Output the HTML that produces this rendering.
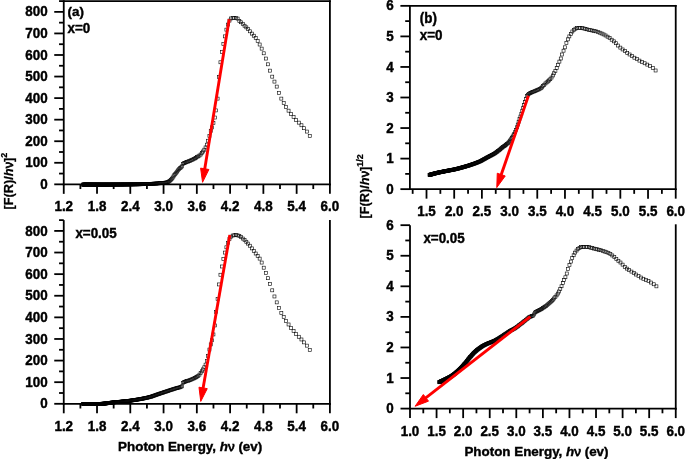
<!DOCTYPE html>
<html><head><meta charset="utf-8"><style>
html,body{margin:0;padding:0;background:#fff;}
body{width:685px;height:459px;overflow:hidden;}
svg{display:block;will-change:transform;font-family:"Liberation Sans", sans-serif;font-weight:bold;}
text{stroke:#000;stroke-width:0.4px;}
</style></head><body>
<svg width="685" height="459" viewBox="0 0 685 459">
<rect width="685" height="459" fill="#fff"/>
<line x1="63.75" y1="0.19" x2="63.75" y2="185.25" stroke="#000" stroke-width="1.8" stroke-linecap="butt"/>
<line x1="62.85" y1="184.35" x2="330.81" y2="184.35" stroke="#000" stroke-width="1.8" stroke-linecap="butt"/>
<line x1="329.91" y1="0.19" x2="329.91" y2="185.25" stroke="#000" stroke-width="1.8" stroke-linecap="butt"/>
<line x1="63.75" y1="1.09" x2="330.81" y2="1.09" stroke="#000" stroke-width="1.8" stroke-linecap="butt"/>
<line x1="54.25" y1="184.35" x2="63.75" y2="184.35" stroke="#000" stroke-width="1.8" stroke-linecap="butt"/>
<line x1="54.25" y1="162.79" x2="63.75" y2="162.79" stroke="#000" stroke-width="1.8" stroke-linecap="butt"/>
<line x1="54.25" y1="141.23" x2="63.75" y2="141.23" stroke="#000" stroke-width="1.8" stroke-linecap="butt"/>
<line x1="54.25" y1="119.67" x2="63.75" y2="119.67" stroke="#000" stroke-width="1.8" stroke-linecap="butt"/>
<line x1="54.25" y1="98.11" x2="63.75" y2="98.11" stroke="#000" stroke-width="1.8" stroke-linecap="butt"/>
<line x1="54.25" y1="76.55" x2="63.75" y2="76.55" stroke="#000" stroke-width="1.8" stroke-linecap="butt"/>
<line x1="54.25" y1="54.99" x2="63.75" y2="54.99" stroke="#000" stroke-width="1.8" stroke-linecap="butt"/>
<line x1="54.25" y1="33.43" x2="63.75" y2="33.43" stroke="#000" stroke-width="1.8" stroke-linecap="butt"/>
<line x1="54.25" y1="11.87" x2="63.75" y2="11.87" stroke="#000" stroke-width="1.8" stroke-linecap="butt"/>
<line x1="59.05" y1="173.57" x2="63.75" y2="173.57" stroke="#000" stroke-width="1.8" stroke-linecap="butt"/>
<line x1="59.05" y1="152.01" x2="63.75" y2="152.01" stroke="#000" stroke-width="1.8" stroke-linecap="butt"/>
<line x1="59.05" y1="130.45" x2="63.75" y2="130.45" stroke="#000" stroke-width="1.8" stroke-linecap="butt"/>
<line x1="59.05" y1="108.89" x2="63.75" y2="108.89" stroke="#000" stroke-width="1.8" stroke-linecap="butt"/>
<line x1="59.05" y1="87.33" x2="63.75" y2="87.33" stroke="#000" stroke-width="1.8" stroke-linecap="butt"/>
<line x1="59.05" y1="65.77" x2="63.75" y2="65.77" stroke="#000" stroke-width="1.8" stroke-linecap="butt"/>
<line x1="59.05" y1="44.21" x2="63.75" y2="44.21" stroke="#000" stroke-width="1.8" stroke-linecap="butt"/>
<line x1="59.05" y1="22.65" x2="63.75" y2="22.65" stroke="#000" stroke-width="1.8" stroke-linecap="butt"/>
<line x1="59.05" y1="1.09" x2="63.75" y2="1.09" stroke="#000" stroke-width="1.8" stroke-linecap="butt"/>
<line x1="63.75" y1="184.35" x2="63.75" y2="193.85" stroke="#000" stroke-width="1.8" stroke-linecap="butt"/>
<line x1="97.02" y1="184.35" x2="97.02" y2="193.85" stroke="#000" stroke-width="1.8" stroke-linecap="butt"/>
<line x1="130.29" y1="184.35" x2="130.29" y2="193.85" stroke="#000" stroke-width="1.8" stroke-linecap="butt"/>
<line x1="163.56" y1="184.35" x2="163.56" y2="193.85" stroke="#000" stroke-width="1.8" stroke-linecap="butt"/>
<line x1="196.83" y1="184.35" x2="196.83" y2="193.85" stroke="#000" stroke-width="1.8" stroke-linecap="butt"/>
<line x1="230.10" y1="184.35" x2="230.10" y2="193.85" stroke="#000" stroke-width="1.8" stroke-linecap="butt"/>
<line x1="263.37" y1="184.35" x2="263.37" y2="193.85" stroke="#000" stroke-width="1.8" stroke-linecap="butt"/>
<line x1="296.64" y1="184.35" x2="296.64" y2="193.85" stroke="#000" stroke-width="1.8" stroke-linecap="butt"/>
<line x1="329.91" y1="184.35" x2="329.91" y2="193.85" stroke="#000" stroke-width="1.8" stroke-linecap="butt"/>
<line x1="80.39" y1="184.35" x2="80.39" y2="189.05" stroke="#000" stroke-width="1.8" stroke-linecap="butt"/>
<line x1="113.66" y1="184.35" x2="113.66" y2="189.05" stroke="#000" stroke-width="1.8" stroke-linecap="butt"/>
<line x1="146.93" y1="184.35" x2="146.93" y2="189.05" stroke="#000" stroke-width="1.8" stroke-linecap="butt"/>
<line x1="180.19" y1="184.35" x2="180.19" y2="189.05" stroke="#000" stroke-width="1.8" stroke-linecap="butt"/>
<line x1="213.47" y1="184.35" x2="213.47" y2="189.05" stroke="#000" stroke-width="1.8" stroke-linecap="butt"/>
<line x1="246.74" y1="184.35" x2="246.74" y2="189.05" stroke="#000" stroke-width="1.8" stroke-linecap="butt"/>
<line x1="280.00" y1="184.35" x2="280.00" y2="189.05" stroke="#000" stroke-width="1.8" stroke-linecap="butt"/>
<line x1="313.27" y1="184.35" x2="313.27" y2="189.05" stroke="#000" stroke-width="1.8" stroke-linecap="butt"/>
<text transform="translate(63.75 211.45) scale(1 1.06)" text-anchor="middle" font-size="13.4" >1.2</text>
<text transform="translate(97.02 211.45) scale(1 1.06)" text-anchor="middle" font-size="13.4" >1.8</text>
<text transform="translate(130.29 211.45) scale(1 1.06)" text-anchor="middle" font-size="13.4" >2.4</text>
<text transform="translate(163.56 211.45) scale(1 1.06)" text-anchor="middle" font-size="13.4" >3.0</text>
<text transform="translate(196.83 211.45) scale(1 1.06)" text-anchor="middle" font-size="13.4" >3.6</text>
<text transform="translate(230.10 211.45) scale(1 1.06)" text-anchor="middle" font-size="13.4" >4.2</text>
<text transform="translate(263.37 211.45) scale(1 1.06)" text-anchor="middle" font-size="13.4" >4.8</text>
<text transform="translate(296.64 211.45) scale(1 1.06)" text-anchor="middle" font-size="13.4" >5.4</text>
<text transform="translate(329.91 211.45) scale(1 1.06)" text-anchor="middle" font-size="13.4" >6.0</text>
<text transform="translate(47.60 188.95) scale(1 1.06)" text-anchor="end" font-size="13.4" >0</text>
<text transform="translate(47.60 167.39) scale(1 1.06)" text-anchor="end" font-size="13.4" >100</text>
<text transform="translate(47.60 145.83) scale(1 1.06)" text-anchor="end" font-size="13.4" >200</text>
<text transform="translate(47.60 124.27) scale(1 1.06)" text-anchor="end" font-size="13.4" >300</text>
<text transform="translate(47.60 102.71) scale(1 1.06)" text-anchor="end" font-size="13.4" >400</text>
<text transform="translate(47.60 81.15) scale(1 1.06)" text-anchor="end" font-size="13.4" >500</text>
<text transform="translate(47.60 59.59) scale(1 1.06)" text-anchor="end" font-size="13.4" >600</text>
<text transform="translate(47.60 38.03) scale(1 1.06)" text-anchor="end" font-size="13.4" >700</text>
<text transform="translate(47.60 16.47) scale(1 1.06)" text-anchor="end" font-size="13.4" >800</text>
<line x1="63.75" y1="220.12" x2="63.75" y2="404.70" stroke="#000" stroke-width="1.8" stroke-linecap="butt"/>
<line x1="62.85" y1="403.80" x2="330.81" y2="403.80" stroke="#000" stroke-width="1.8" stroke-linecap="butt"/>
<line x1="329.91" y1="220.12" x2="329.91" y2="404.70" stroke="#000" stroke-width="1.8" stroke-linecap="butt"/>
<line x1="54.25" y1="403.80" x2="63.75" y2="403.80" stroke="#000" stroke-width="1.8" stroke-linecap="butt"/>
<line x1="54.25" y1="382.19" x2="63.75" y2="382.19" stroke="#000" stroke-width="1.8" stroke-linecap="butt"/>
<line x1="54.25" y1="360.58" x2="63.75" y2="360.58" stroke="#000" stroke-width="1.8" stroke-linecap="butt"/>
<line x1="54.25" y1="338.97" x2="63.75" y2="338.97" stroke="#000" stroke-width="1.8" stroke-linecap="butt"/>
<line x1="54.25" y1="317.36" x2="63.75" y2="317.36" stroke="#000" stroke-width="1.8" stroke-linecap="butt"/>
<line x1="54.25" y1="295.75" x2="63.75" y2="295.75" stroke="#000" stroke-width="1.8" stroke-linecap="butt"/>
<line x1="54.25" y1="274.14" x2="63.75" y2="274.14" stroke="#000" stroke-width="1.8" stroke-linecap="butt"/>
<line x1="54.25" y1="252.53" x2="63.75" y2="252.53" stroke="#000" stroke-width="1.8" stroke-linecap="butt"/>
<line x1="54.25" y1="230.92" x2="63.75" y2="230.92" stroke="#000" stroke-width="1.8" stroke-linecap="butt"/>
<line x1="59.05" y1="393.00" x2="63.75" y2="393.00" stroke="#000" stroke-width="1.8" stroke-linecap="butt"/>
<line x1="59.05" y1="371.38" x2="63.75" y2="371.38" stroke="#000" stroke-width="1.8" stroke-linecap="butt"/>
<line x1="59.05" y1="349.78" x2="63.75" y2="349.78" stroke="#000" stroke-width="1.8" stroke-linecap="butt"/>
<line x1="59.05" y1="328.17" x2="63.75" y2="328.17" stroke="#000" stroke-width="1.8" stroke-linecap="butt"/>
<line x1="59.05" y1="306.56" x2="63.75" y2="306.56" stroke="#000" stroke-width="1.8" stroke-linecap="butt"/>
<line x1="59.05" y1="284.95" x2="63.75" y2="284.95" stroke="#000" stroke-width="1.8" stroke-linecap="butt"/>
<line x1="59.05" y1="263.34" x2="63.75" y2="263.34" stroke="#000" stroke-width="1.8" stroke-linecap="butt"/>
<line x1="59.05" y1="241.73" x2="63.75" y2="241.73" stroke="#000" stroke-width="1.8" stroke-linecap="butt"/>
<line x1="59.05" y1="220.12" x2="63.75" y2="220.12" stroke="#000" stroke-width="1.8" stroke-linecap="butt"/>
<line x1="63.75" y1="403.80" x2="63.75" y2="413.30" stroke="#000" stroke-width="1.8" stroke-linecap="butt"/>
<line x1="97.02" y1="403.80" x2="97.02" y2="413.30" stroke="#000" stroke-width="1.8" stroke-linecap="butt"/>
<line x1="130.29" y1="403.80" x2="130.29" y2="413.30" stroke="#000" stroke-width="1.8" stroke-linecap="butt"/>
<line x1="163.56" y1="403.80" x2="163.56" y2="413.30" stroke="#000" stroke-width="1.8" stroke-linecap="butt"/>
<line x1="196.83" y1="403.80" x2="196.83" y2="413.30" stroke="#000" stroke-width="1.8" stroke-linecap="butt"/>
<line x1="230.10" y1="403.80" x2="230.10" y2="413.30" stroke="#000" stroke-width="1.8" stroke-linecap="butt"/>
<line x1="263.37" y1="403.80" x2="263.37" y2="413.30" stroke="#000" stroke-width="1.8" stroke-linecap="butt"/>
<line x1="296.64" y1="403.80" x2="296.64" y2="413.30" stroke="#000" stroke-width="1.8" stroke-linecap="butt"/>
<line x1="329.91" y1="403.80" x2="329.91" y2="413.30" stroke="#000" stroke-width="1.8" stroke-linecap="butt"/>
<line x1="80.39" y1="403.80" x2="80.39" y2="408.50" stroke="#000" stroke-width="1.8" stroke-linecap="butt"/>
<line x1="113.66" y1="403.80" x2="113.66" y2="408.50" stroke="#000" stroke-width="1.8" stroke-linecap="butt"/>
<line x1="146.93" y1="403.80" x2="146.93" y2="408.50" stroke="#000" stroke-width="1.8" stroke-linecap="butt"/>
<line x1="180.19" y1="403.80" x2="180.19" y2="408.50" stroke="#000" stroke-width="1.8" stroke-linecap="butt"/>
<line x1="213.47" y1="403.80" x2="213.47" y2="408.50" stroke="#000" stroke-width="1.8" stroke-linecap="butt"/>
<line x1="246.74" y1="403.80" x2="246.74" y2="408.50" stroke="#000" stroke-width="1.8" stroke-linecap="butt"/>
<line x1="280.00" y1="403.80" x2="280.00" y2="408.50" stroke="#000" stroke-width="1.8" stroke-linecap="butt"/>
<line x1="313.27" y1="403.80" x2="313.27" y2="408.50" stroke="#000" stroke-width="1.8" stroke-linecap="butt"/>
<text transform="translate(63.75 430.90) scale(1 1.06)" text-anchor="middle" font-size="13.4" >1.2</text>
<text transform="translate(97.02 430.90) scale(1 1.06)" text-anchor="middle" font-size="13.4" >1.8</text>
<text transform="translate(130.29 430.90) scale(1 1.06)" text-anchor="middle" font-size="13.4" >2.4</text>
<text transform="translate(163.56 430.90) scale(1 1.06)" text-anchor="middle" font-size="13.4" >3.0</text>
<text transform="translate(196.83 430.90) scale(1 1.06)" text-anchor="middle" font-size="13.4" >3.6</text>
<text transform="translate(230.10 430.90) scale(1 1.06)" text-anchor="middle" font-size="13.4" >4.2</text>
<text transform="translate(263.37 430.90) scale(1 1.06)" text-anchor="middle" font-size="13.4" >4.8</text>
<text transform="translate(296.64 430.90) scale(1 1.06)" text-anchor="middle" font-size="13.4" >5.4</text>
<text transform="translate(329.91 430.90) scale(1 1.06)" text-anchor="middle" font-size="13.4" >6.0</text>
<text transform="translate(47.60 408.40) scale(1 1.06)" text-anchor="end" font-size="13.4" >0</text>
<text transform="translate(47.60 386.79) scale(1 1.06)" text-anchor="end" font-size="13.4" >100</text>
<text transform="translate(47.60 365.18) scale(1 1.06)" text-anchor="end" font-size="13.4" >200</text>
<text transform="translate(47.60 343.57) scale(1 1.06)" text-anchor="end" font-size="13.4" >300</text>
<text transform="translate(47.60 321.96) scale(1 1.06)" text-anchor="end" font-size="13.4" >400</text>
<text transform="translate(47.60 300.35) scale(1 1.06)" text-anchor="end" font-size="13.4" >500</text>
<text transform="translate(47.60 278.74) scale(1 1.06)" text-anchor="end" font-size="13.4" >600</text>
<text transform="translate(47.60 257.13) scale(1 1.06)" text-anchor="end" font-size="13.4" >700</text>
<text transform="translate(47.60 235.52) scale(1 1.06)" text-anchor="end" font-size="13.4" >800</text>
<line x1="409.90" y1="4.95" x2="409.90" y2="190.05" stroke="#000" stroke-width="1.8" stroke-linecap="butt"/>
<line x1="409.00" y1="189.15" x2="676.62" y2="189.15" stroke="#000" stroke-width="1.8" stroke-linecap="butt"/>
<line x1="675.72" y1="4.95" x2="675.72" y2="190.05" stroke="#000" stroke-width="1.8" stroke-linecap="butt"/>
<line x1="409.90" y1="5.85" x2="676.62" y2="5.85" stroke="#000" stroke-width="1.8" stroke-linecap="butt"/>
<line x1="400.40" y1="189.15" x2="409.90" y2="189.15" stroke="#000" stroke-width="1.8" stroke-linecap="butt"/>
<line x1="400.40" y1="158.60" x2="409.90" y2="158.60" stroke="#000" stroke-width="1.8" stroke-linecap="butt"/>
<line x1="400.40" y1="128.05" x2="409.90" y2="128.05" stroke="#000" stroke-width="1.8" stroke-linecap="butt"/>
<line x1="400.40" y1="97.50" x2="409.90" y2="97.50" stroke="#000" stroke-width="1.8" stroke-linecap="butt"/>
<line x1="400.40" y1="66.95" x2="409.90" y2="66.95" stroke="#000" stroke-width="1.8" stroke-linecap="butt"/>
<line x1="400.40" y1="36.40" x2="409.90" y2="36.40" stroke="#000" stroke-width="1.8" stroke-linecap="butt"/>
<line x1="400.40" y1="5.85" x2="409.90" y2="5.85" stroke="#000" stroke-width="1.8" stroke-linecap="butt"/>
<line x1="405.20" y1="173.88" x2="409.90" y2="173.88" stroke="#000" stroke-width="1.8" stroke-linecap="butt"/>
<line x1="405.20" y1="143.32" x2="409.90" y2="143.32" stroke="#000" stroke-width="1.8" stroke-linecap="butt"/>
<line x1="405.20" y1="112.78" x2="409.90" y2="112.78" stroke="#000" stroke-width="1.8" stroke-linecap="butt"/>
<line x1="405.20" y1="82.23" x2="409.90" y2="82.23" stroke="#000" stroke-width="1.8" stroke-linecap="butt"/>
<line x1="405.20" y1="51.68" x2="409.90" y2="51.68" stroke="#000" stroke-width="1.8" stroke-linecap="butt"/>
<line x1="405.20" y1="21.12" x2="409.90" y2="21.12" stroke="#000" stroke-width="1.8" stroke-linecap="butt"/>
<line x1="426.51" y1="189.15" x2="426.51" y2="198.65" stroke="#000" stroke-width="1.8" stroke-linecap="butt"/>
<line x1="454.20" y1="189.15" x2="454.20" y2="198.65" stroke="#000" stroke-width="1.8" stroke-linecap="butt"/>
<line x1="481.89" y1="189.15" x2="481.89" y2="198.65" stroke="#000" stroke-width="1.8" stroke-linecap="butt"/>
<line x1="509.58" y1="189.15" x2="509.58" y2="198.65" stroke="#000" stroke-width="1.8" stroke-linecap="butt"/>
<line x1="537.27" y1="189.15" x2="537.27" y2="198.65" stroke="#000" stroke-width="1.8" stroke-linecap="butt"/>
<line x1="564.96" y1="189.15" x2="564.96" y2="198.65" stroke="#000" stroke-width="1.8" stroke-linecap="butt"/>
<line x1="592.65" y1="189.15" x2="592.65" y2="198.65" stroke="#000" stroke-width="1.8" stroke-linecap="butt"/>
<line x1="620.34" y1="189.15" x2="620.34" y2="198.65" stroke="#000" stroke-width="1.8" stroke-linecap="butt"/>
<line x1="648.03" y1="189.15" x2="648.03" y2="198.65" stroke="#000" stroke-width="1.8" stroke-linecap="butt"/>
<line x1="675.72" y1="189.15" x2="675.72" y2="198.65" stroke="#000" stroke-width="1.8" stroke-linecap="butt"/>
<line x1="412.67" y1="189.15" x2="412.67" y2="193.85" stroke="#000" stroke-width="1.8" stroke-linecap="butt"/>
<line x1="440.36" y1="189.15" x2="440.36" y2="193.85" stroke="#000" stroke-width="1.8" stroke-linecap="butt"/>
<line x1="468.05" y1="189.15" x2="468.05" y2="193.85" stroke="#000" stroke-width="1.8" stroke-linecap="butt"/>
<line x1="495.74" y1="189.15" x2="495.74" y2="193.85" stroke="#000" stroke-width="1.8" stroke-linecap="butt"/>
<line x1="523.43" y1="189.15" x2="523.43" y2="193.85" stroke="#000" stroke-width="1.8" stroke-linecap="butt"/>
<line x1="551.12" y1="189.15" x2="551.12" y2="193.85" stroke="#000" stroke-width="1.8" stroke-linecap="butt"/>
<line x1="578.81" y1="189.15" x2="578.81" y2="193.85" stroke="#000" stroke-width="1.8" stroke-linecap="butt"/>
<line x1="606.50" y1="189.15" x2="606.50" y2="193.85" stroke="#000" stroke-width="1.8" stroke-linecap="butt"/>
<line x1="634.19" y1="189.15" x2="634.19" y2="193.85" stroke="#000" stroke-width="1.8" stroke-linecap="butt"/>
<line x1="661.88" y1="189.15" x2="661.88" y2="193.85" stroke="#000" stroke-width="1.8" stroke-linecap="butt"/>
<text transform="translate(426.51 216.25) scale(1 1.06)" text-anchor="middle" font-size="13.4" >1.5</text>
<text transform="translate(454.20 216.25) scale(1 1.06)" text-anchor="middle" font-size="13.4" >2.0</text>
<text transform="translate(481.89 216.25) scale(1 1.06)" text-anchor="middle" font-size="13.4" >2.5</text>
<text transform="translate(509.58 216.25) scale(1 1.06)" text-anchor="middle" font-size="13.4" >3.0</text>
<text transform="translate(537.27 216.25) scale(1 1.06)" text-anchor="middle" font-size="13.4" >3.5</text>
<text transform="translate(564.96 216.25) scale(1 1.06)" text-anchor="middle" font-size="13.4" >4.0</text>
<text transform="translate(592.65 216.25) scale(1 1.06)" text-anchor="middle" font-size="13.4" >4.5</text>
<text transform="translate(620.34 216.25) scale(1 1.06)" text-anchor="middle" font-size="13.4" >5.0</text>
<text transform="translate(648.03 216.25) scale(1 1.06)" text-anchor="middle" font-size="13.4" >5.5</text>
<text transform="translate(675.72 216.25) scale(1 1.06)" text-anchor="middle" font-size="13.4" >6.0</text>
<text transform="translate(393.70 193.75) scale(1 1.06)" text-anchor="end" font-size="13.4" >0</text>
<text transform="translate(393.70 163.20) scale(1 1.06)" text-anchor="end" font-size="13.4" >1</text>
<text transform="translate(393.70 132.65) scale(1 1.06)" text-anchor="end" font-size="13.4" >2</text>
<text transform="translate(393.70 102.10) scale(1 1.06)" text-anchor="end" font-size="13.4" >3</text>
<text transform="translate(393.70 71.55) scale(1 1.06)" text-anchor="end" font-size="13.4" >4</text>
<text transform="translate(393.70 41.00) scale(1 1.06)" text-anchor="end" font-size="13.4" >5</text>
<text transform="translate(393.70 10.45) scale(1 1.06)" text-anchor="end" font-size="13.4" >6</text>
<line x1="410.00" y1="225.18" x2="410.00" y2="409.50" stroke="#000" stroke-width="1.8" stroke-linecap="butt"/>
<line x1="409.10" y1="408.60" x2="676.65" y2="408.60" stroke="#000" stroke-width="1.8" stroke-linecap="butt"/>
<line x1="675.75" y1="224.30" x2="675.75" y2="409.50" stroke="#000" stroke-width="1.8" stroke-linecap="butt"/>
<line x1="400.50" y1="408.60" x2="410.00" y2="408.60" stroke="#000" stroke-width="1.8" stroke-linecap="butt"/>
<line x1="400.50" y1="378.03" x2="410.00" y2="378.03" stroke="#000" stroke-width="1.8" stroke-linecap="butt"/>
<line x1="400.50" y1="347.46" x2="410.00" y2="347.46" stroke="#000" stroke-width="1.8" stroke-linecap="butt"/>
<line x1="400.50" y1="316.89" x2="410.00" y2="316.89" stroke="#000" stroke-width="1.8" stroke-linecap="butt"/>
<line x1="400.50" y1="286.32" x2="410.00" y2="286.32" stroke="#000" stroke-width="1.8" stroke-linecap="butt"/>
<line x1="400.50" y1="255.75" x2="410.00" y2="255.75" stroke="#000" stroke-width="1.8" stroke-linecap="butt"/>
<line x1="400.50" y1="225.18" x2="410.00" y2="225.18" stroke="#000" stroke-width="1.8" stroke-linecap="butt"/>
<line x1="405.30" y1="393.31" x2="410.00" y2="393.31" stroke="#000" stroke-width="1.8" stroke-linecap="butt"/>
<line x1="405.30" y1="362.75" x2="410.00" y2="362.75" stroke="#000" stroke-width="1.8" stroke-linecap="butt"/>
<line x1="405.30" y1="332.18" x2="410.00" y2="332.18" stroke="#000" stroke-width="1.8" stroke-linecap="butt"/>
<line x1="405.30" y1="301.61" x2="410.00" y2="301.61" stroke="#000" stroke-width="1.8" stroke-linecap="butt"/>
<line x1="405.30" y1="271.04" x2="410.00" y2="271.04" stroke="#000" stroke-width="1.8" stroke-linecap="butt"/>
<line x1="405.30" y1="240.47" x2="410.00" y2="240.47" stroke="#000" stroke-width="1.8" stroke-linecap="butt"/>
<line x1="410.00" y1="408.60" x2="410.00" y2="418.10" stroke="#000" stroke-width="1.8" stroke-linecap="butt"/>
<line x1="436.57" y1="408.60" x2="436.57" y2="418.10" stroke="#000" stroke-width="1.8" stroke-linecap="butt"/>
<line x1="463.15" y1="408.60" x2="463.15" y2="418.10" stroke="#000" stroke-width="1.8" stroke-linecap="butt"/>
<line x1="489.73" y1="408.60" x2="489.73" y2="418.10" stroke="#000" stroke-width="1.8" stroke-linecap="butt"/>
<line x1="516.30" y1="408.60" x2="516.30" y2="418.10" stroke="#000" stroke-width="1.8" stroke-linecap="butt"/>
<line x1="542.88" y1="408.60" x2="542.88" y2="418.10" stroke="#000" stroke-width="1.8" stroke-linecap="butt"/>
<line x1="569.45" y1="408.60" x2="569.45" y2="418.10" stroke="#000" stroke-width="1.8" stroke-linecap="butt"/>
<line x1="596.02" y1="408.60" x2="596.02" y2="418.10" stroke="#000" stroke-width="1.8" stroke-linecap="butt"/>
<line x1="622.60" y1="408.60" x2="622.60" y2="418.10" stroke="#000" stroke-width="1.8" stroke-linecap="butt"/>
<line x1="649.17" y1="408.60" x2="649.17" y2="418.10" stroke="#000" stroke-width="1.8" stroke-linecap="butt"/>
<line x1="675.75" y1="408.60" x2="675.75" y2="418.10" stroke="#000" stroke-width="1.8" stroke-linecap="butt"/>
<line x1="423.29" y1="408.60" x2="423.29" y2="413.30" stroke="#000" stroke-width="1.8" stroke-linecap="butt"/>
<line x1="449.86" y1="408.60" x2="449.86" y2="413.30" stroke="#000" stroke-width="1.8" stroke-linecap="butt"/>
<line x1="476.44" y1="408.60" x2="476.44" y2="413.30" stroke="#000" stroke-width="1.8" stroke-linecap="butt"/>
<line x1="503.01" y1="408.60" x2="503.01" y2="413.30" stroke="#000" stroke-width="1.8" stroke-linecap="butt"/>
<line x1="529.59" y1="408.60" x2="529.59" y2="413.30" stroke="#000" stroke-width="1.8" stroke-linecap="butt"/>
<line x1="556.16" y1="408.60" x2="556.16" y2="413.30" stroke="#000" stroke-width="1.8" stroke-linecap="butt"/>
<line x1="582.74" y1="408.60" x2="582.74" y2="413.30" stroke="#000" stroke-width="1.8" stroke-linecap="butt"/>
<line x1="609.31" y1="408.60" x2="609.31" y2="413.30" stroke="#000" stroke-width="1.8" stroke-linecap="butt"/>
<line x1="635.89" y1="408.60" x2="635.89" y2="413.30" stroke="#000" stroke-width="1.8" stroke-linecap="butt"/>
<line x1="662.46" y1="408.60" x2="662.46" y2="413.30" stroke="#000" stroke-width="1.8" stroke-linecap="butt"/>
<text transform="translate(410.00 435.70) scale(1 1.06)" text-anchor="middle" font-size="13.4" >1.0</text>
<text transform="translate(436.57 435.70) scale(1 1.06)" text-anchor="middle" font-size="13.4" >1.5</text>
<text transform="translate(463.15 435.70) scale(1 1.06)" text-anchor="middle" font-size="13.4" >2.0</text>
<text transform="translate(489.73 435.70) scale(1 1.06)" text-anchor="middle" font-size="13.4" >2.5</text>
<text transform="translate(516.30 435.70) scale(1 1.06)" text-anchor="middle" font-size="13.4" >3.0</text>
<text transform="translate(542.88 435.70) scale(1 1.06)" text-anchor="middle" font-size="13.4" >3.5</text>
<text transform="translate(569.45 435.70) scale(1 1.06)" text-anchor="middle" font-size="13.4" >4.0</text>
<text transform="translate(596.02 435.70) scale(1 1.06)" text-anchor="middle" font-size="13.4" >4.5</text>
<text transform="translate(622.60 435.70) scale(1 1.06)" text-anchor="middle" font-size="13.4" >5.0</text>
<text transform="translate(649.17 435.70) scale(1 1.06)" text-anchor="middle" font-size="13.4" >5.5</text>
<text transform="translate(675.75 435.70) scale(1 1.06)" text-anchor="middle" font-size="13.4" >6.0</text>
<text transform="translate(393.70 413.20) scale(1 1.06)" text-anchor="end" font-size="13.4" >0</text>
<text transform="translate(393.70 382.63) scale(1 1.06)" text-anchor="end" font-size="13.4" >1</text>
<text transform="translate(393.70 352.06) scale(1 1.06)" text-anchor="end" font-size="13.4" >2</text>
<text transform="translate(393.70 321.49) scale(1 1.06)" text-anchor="end" font-size="13.4" >3</text>
<text transform="translate(393.70 290.92) scale(1 1.06)" text-anchor="end" font-size="13.4" >4</text>
<text transform="translate(393.70 260.35) scale(1 1.06)" text-anchor="end" font-size="13.4" >5</text>
<text transform="translate(393.70 229.78) scale(1 1.06)" text-anchor="end" font-size="13.4" >6</text>
<g fill="none" stroke="#000" stroke-width="0.6">
<rect x="81.66" y="183.10" width="3.0" height="3.0"/>
<rect x="81.87" y="183.10" width="3.0" height="3.0"/>
<rect x="82.09" y="183.10" width="3.0" height="3.0"/>
<rect x="82.31" y="183.10" width="3.0" height="3.0"/>
<rect x="82.53" y="183.10" width="3.0" height="3.0"/>
<rect x="82.75" y="183.10" width="3.0" height="3.0"/>
<rect x="82.97" y="183.10" width="3.0" height="3.0"/>
<rect x="83.19" y="183.10" width="3.0" height="3.0"/>
<rect x="83.41" y="183.10" width="3.0" height="3.0"/>
<rect x="83.64" y="183.10" width="3.0" height="3.0"/>
<rect x="83.86" y="183.10" width="3.0" height="3.0"/>
<rect x="84.09" y="183.10" width="3.0" height="3.0"/>
<rect x="84.32" y="183.10" width="3.0" height="3.0"/>
<rect x="84.54" y="183.10" width="3.0" height="3.0"/>
<rect x="84.77" y="183.10" width="3.0" height="3.0"/>
<rect x="85.01" y="183.10" width="3.0" height="3.0"/>
<rect x="85.24" y="183.10" width="3.0" height="3.0"/>
<rect x="85.47" y="183.10" width="3.0" height="3.0"/>
<rect x="85.71" y="183.10" width="3.0" height="3.0"/>
<rect x="85.94" y="183.10" width="3.0" height="3.0"/>
<rect x="86.18" y="183.10" width="3.0" height="3.0"/>
<rect x="86.42" y="183.10" width="3.0" height="3.0"/>
<rect x="86.66" y="183.10" width="3.0" height="3.0"/>
<rect x="86.90" y="183.10" width="3.0" height="3.0"/>
<rect x="87.14" y="183.10" width="3.0" height="3.0"/>
<rect x="87.39" y="183.10" width="3.0" height="3.0"/>
<rect x="87.63" y="183.10" width="3.0" height="3.0"/>
<rect x="87.88" y="183.10" width="3.0" height="3.0"/>
<rect x="88.13" y="183.10" width="3.0" height="3.0"/>
<rect x="88.38" y="183.10" width="3.0" height="3.0"/>
<rect x="88.63" y="183.10" width="3.0" height="3.0"/>
<rect x="88.88" y="183.10" width="3.0" height="3.0"/>
<rect x="89.13" y="183.10" width="3.0" height="3.0"/>
<rect x="89.39" y="183.10" width="3.0" height="3.0"/>
<rect x="89.64" y="183.10" width="3.0" height="3.0"/>
<rect x="89.90" y="183.10" width="3.0" height="3.0"/>
<rect x="90.16" y="183.10" width="3.0" height="3.0"/>
<rect x="90.42" y="183.10" width="3.0" height="3.0"/>
<rect x="90.68" y="183.10" width="3.0" height="3.0"/>
<rect x="90.94" y="183.10" width="3.0" height="3.0"/>
<rect x="91.21" y="183.10" width="3.0" height="3.0"/>
<rect x="91.47" y="183.10" width="3.0" height="3.0"/>
<rect x="91.74" y="183.10" width="3.0" height="3.0"/>
<rect x="92.01" y="183.10" width="3.0" height="3.0"/>
<rect x="92.28" y="183.10" width="3.0" height="3.0"/>
<rect x="92.55" y="183.10" width="3.0" height="3.0"/>
<rect x="92.83" y="183.10" width="3.0" height="3.0"/>
<rect x="93.10" y="183.10" width="3.0" height="3.0"/>
<rect x="93.38" y="183.10" width="3.0" height="3.0"/>
<rect x="93.66" y="183.10" width="3.0" height="3.0"/>
<rect x="93.94" y="183.10" width="3.0" height="3.0"/>
<rect x="94.22" y="183.10" width="3.0" height="3.0"/>
<rect x="94.50" y="183.10" width="3.0" height="3.0"/>
<rect x="94.78" y="183.10" width="3.0" height="3.0"/>
<rect x="95.07" y="183.10" width="3.0" height="3.0"/>
<rect x="95.36" y="183.10" width="3.0" height="3.0"/>
<rect x="95.65" y="183.10" width="3.0" height="3.0"/>
<rect x="95.94" y="183.10" width="3.0" height="3.0"/>
<rect x="96.23" y="183.10" width="3.0" height="3.0"/>
<rect x="96.53" y="183.10" width="3.0" height="3.0"/>
<rect x="96.82" y="183.10" width="3.0" height="3.0"/>
<rect x="97.12" y="183.10" width="3.0" height="3.0"/>
<rect x="97.42" y="183.10" width="3.0" height="3.0"/>
<rect x="97.72" y="183.10" width="3.0" height="3.0"/>
<rect x="98.03" y="183.10" width="3.0" height="3.0"/>
<rect x="98.33" y="183.10" width="3.0" height="3.0"/>
<rect x="98.64" y="183.10" width="3.0" height="3.0"/>
<rect x="98.95" y="183.10" width="3.0" height="3.0"/>
<rect x="99.26" y="183.10" width="3.0" height="3.0"/>
<rect x="99.57" y="183.10" width="3.0" height="3.0"/>
<rect x="99.89" y="183.10" width="3.0" height="3.0"/>
<rect x="100.21" y="183.10" width="3.0" height="3.0"/>
<rect x="100.52" y="183.10" width="3.0" height="3.0"/>
<rect x="100.84" y="183.10" width="3.0" height="3.0"/>
<rect x="101.17" y="183.10" width="3.0" height="3.0"/>
<rect x="101.49" y="183.10" width="3.0" height="3.0"/>
<rect x="101.82" y="183.10" width="3.0" height="3.0"/>
<rect x="102.15" y="183.10" width="3.0" height="3.0"/>
<rect x="102.48" y="183.09" width="3.0" height="3.0"/>
<rect x="102.81" y="183.09" width="3.0" height="3.0"/>
<rect x="103.14" y="183.09" width="3.0" height="3.0"/>
<rect x="103.48" y="183.09" width="3.0" height="3.0"/>
<rect x="103.82" y="183.09" width="3.0" height="3.0"/>
<rect x="104.16" y="183.09" width="3.0" height="3.0"/>
<rect x="104.50" y="183.09" width="3.0" height="3.0"/>
<rect x="104.85" y="183.09" width="3.0" height="3.0"/>
<rect x="105.20" y="183.08" width="3.0" height="3.0"/>
<rect x="105.55" y="183.08" width="3.0" height="3.0"/>
<rect x="105.90" y="183.08" width="3.0" height="3.0"/>
<rect x="106.25" y="183.08" width="3.0" height="3.0"/>
<rect x="106.61" y="183.08" width="3.0" height="3.0"/>
<rect x="106.97" y="183.08" width="3.0" height="3.0"/>
<rect x="107.33" y="183.07" width="3.0" height="3.0"/>
<rect x="107.69" y="183.07" width="3.0" height="3.0"/>
<rect x="108.06" y="183.07" width="3.0" height="3.0"/>
<rect x="108.43" y="183.07" width="3.0" height="3.0"/>
<rect x="108.80" y="183.07" width="3.0" height="3.0"/>
<rect x="109.17" y="183.06" width="3.0" height="3.0"/>
<rect x="109.55" y="183.06" width="3.0" height="3.0"/>
<rect x="109.93" y="183.06" width="3.0" height="3.0"/>
<rect x="110.31" y="183.06" width="3.0" height="3.0"/>
<rect x="110.69" y="183.05" width="3.0" height="3.0"/>
<rect x="111.08" y="183.05" width="3.0" height="3.0"/>
<rect x="111.46" y="183.05" width="3.0" height="3.0"/>
<rect x="111.86" y="183.05" width="3.0" height="3.0"/>
<rect x="112.25" y="183.04" width="3.0" height="3.0"/>
<rect x="112.65" y="183.04" width="3.0" height="3.0"/>
<rect x="113.04" y="183.04" width="3.0" height="3.0"/>
<rect x="113.45" y="183.04" width="3.0" height="3.0"/>
<rect x="113.85" y="183.03" width="3.0" height="3.0"/>
<rect x="114.26" y="183.03" width="3.0" height="3.0"/>
<rect x="114.67" y="183.03" width="3.0" height="3.0"/>
<rect x="115.08" y="183.02" width="3.0" height="3.0"/>
<rect x="115.50" y="183.02" width="3.0" height="3.0"/>
<rect x="115.92" y="183.02" width="3.0" height="3.0"/>
<rect x="116.34" y="183.02" width="3.0" height="3.0"/>
<rect x="116.76" y="183.01" width="3.0" height="3.0"/>
<rect x="117.19" y="183.01" width="3.0" height="3.0"/>
<rect x="117.62" y="183.01" width="3.0" height="3.0"/>
<rect x="118.06" y="183.00" width="3.0" height="3.0"/>
<rect x="118.49" y="183.00" width="3.0" height="3.0"/>
<rect x="118.93" y="183.00" width="3.0" height="3.0"/>
<rect x="119.38" y="182.99" width="3.0" height="3.0"/>
<rect x="119.82" y="182.99" width="3.0" height="3.0"/>
<rect x="120.27" y="182.99" width="3.0" height="3.0"/>
<rect x="120.72" y="182.98" width="3.0" height="3.0"/>
<rect x="121.18" y="182.98" width="3.0" height="3.0"/>
<rect x="121.64" y="182.98" width="3.0" height="3.0"/>
<rect x="122.10" y="182.97" width="3.0" height="3.0"/>
<rect x="122.57" y="182.97" width="3.0" height="3.0"/>
<rect x="123.04" y="182.96" width="3.0" height="3.0"/>
<rect x="123.51" y="182.96" width="3.0" height="3.0"/>
<rect x="123.99" y="182.96" width="3.0" height="3.0"/>
<rect x="124.47" y="182.95" width="3.0" height="3.0"/>
<rect x="124.95" y="182.95" width="3.0" height="3.0"/>
<rect x="125.44" y="182.94" width="3.0" height="3.0"/>
<rect x="125.93" y="182.94" width="3.0" height="3.0"/>
<rect x="126.43" y="182.93" width="3.0" height="3.0"/>
<rect x="126.93" y="182.93" width="3.0" height="3.0"/>
<rect x="127.43" y="182.92" width="3.0" height="3.0"/>
<rect x="127.94" y="182.92" width="3.0" height="3.0"/>
<rect x="128.45" y="182.91" width="3.0" height="3.0"/>
<rect x="128.96" y="182.91" width="3.0" height="3.0"/>
<rect x="129.48" y="182.90" width="3.0" height="3.0"/>
<rect x="130.00" y="182.89" width="3.0" height="3.0"/>
<rect x="130.53" y="182.89" width="3.0" height="3.0"/>
<rect x="131.06" y="182.88" width="3.0" height="3.0"/>
<rect x="131.60" y="182.87" width="3.0" height="3.0"/>
<rect x="132.13" y="182.87" width="3.0" height="3.0"/>
<rect x="132.68" y="182.86" width="3.0" height="3.0"/>
<rect x="133.23" y="182.85" width="3.0" height="3.0"/>
<rect x="133.78" y="182.84" width="3.0" height="3.0"/>
<rect x="134.34" y="182.83" width="3.0" height="3.0"/>
<rect x="134.90" y="182.82" width="3.0" height="3.0"/>
<rect x="135.46" y="182.82" width="3.0" height="3.0"/>
<rect x="136.03" y="182.81" width="3.0" height="3.0"/>
<rect x="136.61" y="182.80" width="3.0" height="3.0"/>
<rect x="137.19" y="182.79" width="3.0" height="3.0"/>
<rect x="137.77" y="182.78" width="3.0" height="3.0"/>
<rect x="138.36" y="182.76" width="3.0" height="3.0"/>
<rect x="138.96" y="182.75" width="3.0" height="3.0"/>
<rect x="139.56" y="182.74" width="3.0" height="3.0"/>
<rect x="140.16" y="182.73" width="3.0" height="3.0"/>
<rect x="140.77" y="182.72" width="3.0" height="3.0"/>
<rect x="141.38" y="182.70" width="3.0" height="3.0"/>
<rect x="142.00" y="182.69" width="3.0" height="3.0"/>
<rect x="142.63" y="182.67" width="3.0" height="3.0"/>
<rect x="143.26" y="182.65" width="3.0" height="3.0"/>
<rect x="143.90" y="182.63" width="3.0" height="3.0"/>
<rect x="144.54" y="182.60" width="3.0" height="3.0"/>
<rect x="145.18" y="182.58" width="3.0" height="3.0"/>
<rect x="145.84" y="182.55" width="3.0" height="3.0"/>
<rect x="146.50" y="182.51" width="3.0" height="3.0"/>
<rect x="147.16" y="182.48" width="3.0" height="3.0"/>
<rect x="147.83" y="182.44" width="3.0" height="3.0"/>
<rect x="148.51" y="182.41" width="3.0" height="3.0"/>
<rect x="149.19" y="182.37" width="3.0" height="3.0"/>
<rect x="149.88" y="182.33" width="3.0" height="3.0"/>
<rect x="150.57" y="182.28" width="3.0" height="3.0"/>
<rect x="151.27" y="182.24" width="3.0" height="3.0"/>
<rect x="151.98" y="182.20" width="3.0" height="3.0"/>
<rect x="152.69" y="182.15" width="3.0" height="3.0"/>
<rect x="153.41" y="182.11" width="3.0" height="3.0"/>
<rect x="154.14" y="182.06" width="3.0" height="3.0"/>
<rect x="154.87" y="182.01" width="3.0" height="3.0"/>
<rect x="155.61" y="181.95" width="3.0" height="3.0"/>
<rect x="156.36" y="181.89" width="3.0" height="3.0"/>
<rect x="157.11" y="181.82" width="3.0" height="3.0"/>
<rect x="157.88" y="181.76" width="3.0" height="3.0"/>
<rect x="158.64" y="181.69" width="3.0" height="3.0"/>
<rect x="159.42" y="181.62" width="3.0" height="3.0"/>
<rect x="160.20" y="181.55" width="3.0" height="3.0"/>
<rect x="160.99" y="181.48" width="3.0" height="3.0"/>
<rect x="161.79" y="181.40" width="3.0" height="3.0"/>
<rect x="162.60" y="181.32" width="3.0" height="3.0"/>
<rect x="163.41" y="181.22" width="3.0" height="3.0"/>
<rect x="164.23" y="181.10" width="3.0" height="3.0"/>
<rect x="165.06" y="180.95" width="3.0" height="3.0"/>
<rect x="165.90" y="180.73" width="3.0" height="3.0"/>
<rect x="166.75" y="180.41" width="3.0" height="3.0"/>
<rect x="167.61" y="179.94" width="3.0" height="3.0"/>
<rect x="168.47" y="179.21" width="3.0" height="3.0"/>
<rect x="169.34" y="178.35" width="3.0" height="3.0"/>
<rect x="170.22" y="177.29" width="3.0" height="3.0"/>
<rect x="171.11" y="176.15" width="3.0" height="3.0"/>
<rect x="172.01" y="174.90" width="3.0" height="3.0"/>
<rect x="172.92" y="173.59" width="3.0" height="3.0"/>
<rect x="173.84" y="172.36" width="3.0" height="3.0"/>
<rect x="174.77" y="171.19" width="3.0" height="3.0"/>
<rect x="175.70" y="170.05" width="3.0" height="3.0"/>
<rect x="176.65" y="168.91" width="3.0" height="3.0"/>
<rect x="177.61" y="167.77" width="3.0" height="3.0"/>
<rect x="178.58" y="166.72" width="3.0" height="3.0"/>
<rect x="179.55" y="165.97" width="3.0" height="3.0"/>
<rect x="180.54" y="164.93" width="3.0" height="3.0"/>
<rect x="181.54" y="162.36" width="3.0" height="3.0"/>
<rect x="182.55" y="161.73" width="3.0" height="3.0"/>
<rect x="183.57" y="161.31" width="3.0" height="3.0"/>
<rect x="184.61" y="160.86" width="3.0" height="3.0"/>
<rect x="185.65" y="160.45" width="3.0" height="3.0"/>
<rect x="186.70" y="160.06" width="3.0" height="3.0"/>
<rect x="187.77" y="159.65" width="3.0" height="3.0"/>
<rect x="188.85" y="159.19" width="3.0" height="3.0"/>
<rect x="189.94" y="158.69" width="3.0" height="3.0"/>
<rect x="191.05" y="158.15" width="3.0" height="3.0"/>
<rect x="192.16" y="157.59" width="3.0" height="3.0"/>
<rect x="193.29" y="156.97" width="3.0" height="3.0"/>
<rect x="194.43" y="156.33" width="3.0" height="3.0"/>
<rect x="195.59" y="155.66" width="3.0" height="3.0"/>
<rect x="196.76" y="154.91" width="3.0" height="3.0"/>
<rect x="197.94" y="154.05" width="3.0" height="3.0"/>
<rect x="199.14" y="153.00" width="3.0" height="3.0"/>
<rect x="200.35" y="151.66" width="3.0" height="3.0"/>
<rect x="201.57" y="150.03" width="3.0" height="3.0"/>
<rect x="202.81" y="148.16" width="3.0" height="3.0"/>
<rect x="204.07" y="145.94" width="3.0" height="3.0"/>
<rect x="205.34" y="143.16" width="3.0" height="3.0"/>
<rect x="206.62" y="139.24" width="3.0" height="3.0"/>
<rect x="207.93" y="134.42" width="3.0" height="3.0"/>
<rect x="209.24" y="129.54" width="3.0" height="3.0"/>
<rect x="210.58" y="125.91" width="3.0" height="3.0"/>
<rect x="211.93" y="121.61" width="3.0" height="3.0"/>
<rect x="213.30" y="116.03" width="3.0" height="3.0"/>
<rect x="214.68" y="108.90" width="3.0" height="3.0"/>
<rect x="216.09" y="97.10" width="3.0" height="3.0"/>
<rect x="217.51" y="75.60" width="3.0" height="3.0"/>
<rect x="218.95" y="60.78" width="3.0" height="3.0"/>
<rect x="220.41" y="50.55" width="3.0" height="3.0"/>
<rect x="221.89" y="42.30" width="3.0" height="3.0"/>
<rect x="223.39" y="34.88" width="3.0" height="3.0"/>
<rect x="224.90" y="28.14" width="3.0" height="3.0"/>
<rect x="226.44" y="23.08" width="3.0" height="3.0"/>
<rect x="228.00" y="19.08" width="3.0" height="3.0"/>
<rect x="229.58" y="16.97" width="3.0" height="3.0"/>
<rect x="231.18" y="16.52" width="3.0" height="3.0"/>
<rect x="232.81" y="16.40" width="3.0" height="3.0"/>
<rect x="234.45" y="16.48" width="3.0" height="3.0"/>
<rect x="236.12" y="17.08" width="3.0" height="3.0"/>
<rect x="237.82" y="19.31" width="3.0" height="3.0"/>
<rect x="239.53" y="20.75" width="3.0" height="3.0"/>
<rect x="241.27" y="22.27" width="3.0" height="3.0"/>
<rect x="243.04" y="24.22" width="3.0" height="3.0"/>
<rect x="244.83" y="25.87" width="3.0" height="3.0"/>
<rect x="246.65" y="27.45" width="3.0" height="3.0"/>
<rect x="248.50" y="29.80" width="3.0" height="3.0"/>
<rect x="250.37" y="32.11" width="3.0" height="3.0"/>
<rect x="252.27" y="34.22" width="3.0" height="3.0"/>
<rect x="254.20" y="36.40" width="3.0" height="3.0"/>
<rect x="256.16" y="39.37" width="3.0" height="3.0"/>
<rect x="258.15" y="43.01" width="3.0" height="3.0"/>
<rect x="260.16" y="47.12" width="3.0" height="3.0"/>
<rect x="262.21" y="51.80" width="3.0" height="3.0"/>
<rect x="264.30" y="57.06" width="3.0" height="3.0"/>
<rect x="266.41" y="62.81" width="3.0" height="3.0"/>
<rect x="268.56" y="69.14" width="3.0" height="3.0"/>
<rect x="270.74" y="75.15" width="3.0" height="3.0"/>
<rect x="272.96" y="80.09" width="3.0" height="3.0"/>
<rect x="275.21" y="85.09" width="3.0" height="3.0"/>
<rect x="277.51" y="91.29" width="3.0" height="3.0"/>
<rect x="279.83" y="97.11" width="3.0" height="3.0"/>
<rect x="282.20" y="101.66" width="3.0" height="3.0"/>
<rect x="284.61" y="105.63" width="3.0" height="3.0"/>
<rect x="287.06" y="109.16" width="3.0" height="3.0"/>
<rect x="289.55" y="112.43" width="3.0" height="3.0"/>
<rect x="292.08" y="115.61" width="3.0" height="3.0"/>
<rect x="294.66" y="118.57" width="3.0" height="3.0"/>
<rect x="297.28" y="121.14" width="3.0" height="3.0"/>
<rect x="299.95" y="123.76" width="3.0" height="3.0"/>
<rect x="302.67" y="126.70" width="3.0" height="3.0"/>
<rect x="305.43" y="130.07" width="3.0" height="3.0"/>
<rect x="308.25" y="134.31" width="3.0" height="3.0"/>
<rect x="81.66" y="402.69" width="3.0" height="3.0"/>
<rect x="81.87" y="402.69" width="3.0" height="3.0"/>
<rect x="82.09" y="402.69" width="3.0" height="3.0"/>
<rect x="82.31" y="402.68" width="3.0" height="3.0"/>
<rect x="82.53" y="402.68" width="3.0" height="3.0"/>
<rect x="82.75" y="402.68" width="3.0" height="3.0"/>
<rect x="82.97" y="402.68" width="3.0" height="3.0"/>
<rect x="83.19" y="402.67" width="3.0" height="3.0"/>
<rect x="83.41" y="402.67" width="3.0" height="3.0"/>
<rect x="83.64" y="402.67" width="3.0" height="3.0"/>
<rect x="83.86" y="402.67" width="3.0" height="3.0"/>
<rect x="84.09" y="402.66" width="3.0" height="3.0"/>
<rect x="84.32" y="402.66" width="3.0" height="3.0"/>
<rect x="84.54" y="402.66" width="3.0" height="3.0"/>
<rect x="84.77" y="402.65" width="3.0" height="3.0"/>
<rect x="85.01" y="402.65" width="3.0" height="3.0"/>
<rect x="85.24" y="402.65" width="3.0" height="3.0"/>
<rect x="85.47" y="402.65" width="3.0" height="3.0"/>
<rect x="85.71" y="402.64" width="3.0" height="3.0"/>
<rect x="85.94" y="402.64" width="3.0" height="3.0"/>
<rect x="86.18" y="402.64" width="3.0" height="3.0"/>
<rect x="86.42" y="402.63" width="3.0" height="3.0"/>
<rect x="86.66" y="402.63" width="3.0" height="3.0"/>
<rect x="86.90" y="402.63" width="3.0" height="3.0"/>
<rect x="87.14" y="402.62" width="3.0" height="3.0"/>
<rect x="87.39" y="402.62" width="3.0" height="3.0"/>
<rect x="87.63" y="402.61" width="3.0" height="3.0"/>
<rect x="87.88" y="402.61" width="3.0" height="3.0"/>
<rect x="88.13" y="402.61" width="3.0" height="3.0"/>
<rect x="88.38" y="402.60" width="3.0" height="3.0"/>
<rect x="88.63" y="402.60" width="3.0" height="3.0"/>
<rect x="88.88" y="402.59" width="3.0" height="3.0"/>
<rect x="89.13" y="402.59" width="3.0" height="3.0"/>
<rect x="89.39" y="402.59" width="3.0" height="3.0"/>
<rect x="89.64" y="402.58" width="3.0" height="3.0"/>
<rect x="89.90" y="402.58" width="3.0" height="3.0"/>
<rect x="90.16" y="402.57" width="3.0" height="3.0"/>
<rect x="90.42" y="402.57" width="3.0" height="3.0"/>
<rect x="90.68" y="402.56" width="3.0" height="3.0"/>
<rect x="90.94" y="402.56" width="3.0" height="3.0"/>
<rect x="91.21" y="402.55" width="3.0" height="3.0"/>
<rect x="91.47" y="402.55" width="3.0" height="3.0"/>
<rect x="91.74" y="402.54" width="3.0" height="3.0"/>
<rect x="92.01" y="402.54" width="3.0" height="3.0"/>
<rect x="92.28" y="402.53" width="3.0" height="3.0"/>
<rect x="92.55" y="402.52" width="3.0" height="3.0"/>
<rect x="92.83" y="402.52" width="3.0" height="3.0"/>
<rect x="93.10" y="402.51" width="3.0" height="3.0"/>
<rect x="93.38" y="402.51" width="3.0" height="3.0"/>
<rect x="93.66" y="402.50" width="3.0" height="3.0"/>
<rect x="93.94" y="402.49" width="3.0" height="3.0"/>
<rect x="94.22" y="402.49" width="3.0" height="3.0"/>
<rect x="94.50" y="402.48" width="3.0" height="3.0"/>
<rect x="94.78" y="402.47" width="3.0" height="3.0"/>
<rect x="95.07" y="402.46" width="3.0" height="3.0"/>
<rect x="95.36" y="402.45" width="3.0" height="3.0"/>
<rect x="95.65" y="402.45" width="3.0" height="3.0"/>
<rect x="95.94" y="402.44" width="3.0" height="3.0"/>
<rect x="96.23" y="402.43" width="3.0" height="3.0"/>
<rect x="96.53" y="402.42" width="3.0" height="3.0"/>
<rect x="96.82" y="402.41" width="3.0" height="3.0"/>
<rect x="97.12" y="402.40" width="3.0" height="3.0"/>
<rect x="97.42" y="402.39" width="3.0" height="3.0"/>
<rect x="97.72" y="402.38" width="3.0" height="3.0"/>
<rect x="98.03" y="402.37" width="3.0" height="3.0"/>
<rect x="98.33" y="402.36" width="3.0" height="3.0"/>
<rect x="98.64" y="402.35" width="3.0" height="3.0"/>
<rect x="98.95" y="402.33" width="3.0" height="3.0"/>
<rect x="99.26" y="402.32" width="3.0" height="3.0"/>
<rect x="99.57" y="402.31" width="3.0" height="3.0"/>
<rect x="99.89" y="402.30" width="3.0" height="3.0"/>
<rect x="100.21" y="402.28" width="3.0" height="3.0"/>
<rect x="100.52" y="402.26" width="3.0" height="3.0"/>
<rect x="100.84" y="402.24" width="3.0" height="3.0"/>
<rect x="101.17" y="402.22" width="3.0" height="3.0"/>
<rect x="101.49" y="402.20" width="3.0" height="3.0"/>
<rect x="101.82" y="402.17" width="3.0" height="3.0"/>
<rect x="102.15" y="402.14" width="3.0" height="3.0"/>
<rect x="102.48" y="402.11" width="3.0" height="3.0"/>
<rect x="102.81" y="402.08" width="3.0" height="3.0"/>
<rect x="103.14" y="402.05" width="3.0" height="3.0"/>
<rect x="103.48" y="402.01" width="3.0" height="3.0"/>
<rect x="103.82" y="401.97" width="3.0" height="3.0"/>
<rect x="104.16" y="401.93" width="3.0" height="3.0"/>
<rect x="104.50" y="401.89" width="3.0" height="3.0"/>
<rect x="104.85" y="401.85" width="3.0" height="3.0"/>
<rect x="105.20" y="401.81" width="3.0" height="3.0"/>
<rect x="105.55" y="401.76" width="3.0" height="3.0"/>
<rect x="105.90" y="401.71" width="3.0" height="3.0"/>
<rect x="106.25" y="401.67" width="3.0" height="3.0"/>
<rect x="106.61" y="401.62" width="3.0" height="3.0"/>
<rect x="106.97" y="401.57" width="3.0" height="3.0"/>
<rect x="107.33" y="401.52" width="3.0" height="3.0"/>
<rect x="107.69" y="401.47" width="3.0" height="3.0"/>
<rect x="108.06" y="401.42" width="3.0" height="3.0"/>
<rect x="108.43" y="401.37" width="3.0" height="3.0"/>
<rect x="108.80" y="401.32" width="3.0" height="3.0"/>
<rect x="109.17" y="401.27" width="3.0" height="3.0"/>
<rect x="109.55" y="401.21" width="3.0" height="3.0"/>
<rect x="109.93" y="401.16" width="3.0" height="3.0"/>
<rect x="110.31" y="401.11" width="3.0" height="3.0"/>
<rect x="110.69" y="401.06" width="3.0" height="3.0"/>
<rect x="111.08" y="401.01" width="3.0" height="3.0"/>
<rect x="111.46" y="400.96" width="3.0" height="3.0"/>
<rect x="111.86" y="400.92" width="3.0" height="3.0"/>
<rect x="112.25" y="400.87" width="3.0" height="3.0"/>
<rect x="112.65" y="400.83" width="3.0" height="3.0"/>
<rect x="113.04" y="400.78" width="3.0" height="3.0"/>
<rect x="113.45" y="400.74" width="3.0" height="3.0"/>
<rect x="113.85" y="400.70" width="3.0" height="3.0"/>
<rect x="114.26" y="400.66" width="3.0" height="3.0"/>
<rect x="114.67" y="400.62" width="3.0" height="3.0"/>
<rect x="115.08" y="400.58" width="3.0" height="3.0"/>
<rect x="115.50" y="400.54" width="3.0" height="3.0"/>
<rect x="115.92" y="400.50" width="3.0" height="3.0"/>
<rect x="116.34" y="400.46" width="3.0" height="3.0"/>
<rect x="116.76" y="400.42" width="3.0" height="3.0"/>
<rect x="117.19" y="400.38" width="3.0" height="3.0"/>
<rect x="117.62" y="400.34" width="3.0" height="3.0"/>
<rect x="118.06" y="400.30" width="3.0" height="3.0"/>
<rect x="118.49" y="400.26" width="3.0" height="3.0"/>
<rect x="118.93" y="400.22" width="3.0" height="3.0"/>
<rect x="119.38" y="400.18" width="3.0" height="3.0"/>
<rect x="119.82" y="400.14" width="3.0" height="3.0"/>
<rect x="120.27" y="400.10" width="3.0" height="3.0"/>
<rect x="120.72" y="400.06" width="3.0" height="3.0"/>
<rect x="121.18" y="400.02" width="3.0" height="3.0"/>
<rect x="121.64" y="399.97" width="3.0" height="3.0"/>
<rect x="122.10" y="399.93" width="3.0" height="3.0"/>
<rect x="122.57" y="399.88" width="3.0" height="3.0"/>
<rect x="123.04" y="399.84" width="3.0" height="3.0"/>
<rect x="123.51" y="399.79" width="3.0" height="3.0"/>
<rect x="123.99" y="399.74" width="3.0" height="3.0"/>
<rect x="124.47" y="399.69" width="3.0" height="3.0"/>
<rect x="124.95" y="399.63" width="3.0" height="3.0"/>
<rect x="125.44" y="399.58" width="3.0" height="3.0"/>
<rect x="125.93" y="399.52" width="3.0" height="3.0"/>
<rect x="126.43" y="399.46" width="3.0" height="3.0"/>
<rect x="126.93" y="399.40" width="3.0" height="3.0"/>
<rect x="127.43" y="399.34" width="3.0" height="3.0"/>
<rect x="127.94" y="399.27" width="3.0" height="3.0"/>
<rect x="128.45" y="399.20" width="3.0" height="3.0"/>
<rect x="128.96" y="399.13" width="3.0" height="3.0"/>
<rect x="129.48" y="399.06" width="3.0" height="3.0"/>
<rect x="130.00" y="398.99" width="3.0" height="3.0"/>
<rect x="130.53" y="398.91" width="3.0" height="3.0"/>
<rect x="131.06" y="398.84" width="3.0" height="3.0"/>
<rect x="131.60" y="398.76" width="3.0" height="3.0"/>
<rect x="132.13" y="398.68" width="3.0" height="3.0"/>
<rect x="132.68" y="398.59" width="3.0" height="3.0"/>
<rect x="133.23" y="398.51" width="3.0" height="3.0"/>
<rect x="133.78" y="398.42" width="3.0" height="3.0"/>
<rect x="134.34" y="398.33" width="3.0" height="3.0"/>
<rect x="134.90" y="398.24" width="3.0" height="3.0"/>
<rect x="135.46" y="398.15" width="3.0" height="3.0"/>
<rect x="136.03" y="398.05" width="3.0" height="3.0"/>
<rect x="136.61" y="397.96" width="3.0" height="3.0"/>
<rect x="137.19" y="397.86" width="3.0" height="3.0"/>
<rect x="137.77" y="397.75" width="3.0" height="3.0"/>
<rect x="138.36" y="397.65" width="3.0" height="3.0"/>
<rect x="138.96" y="397.54" width="3.0" height="3.0"/>
<rect x="139.56" y="397.44" width="3.0" height="3.0"/>
<rect x="140.16" y="397.32" width="3.0" height="3.0"/>
<rect x="140.77" y="397.21" width="3.0" height="3.0"/>
<rect x="141.38" y="397.09" width="3.0" height="3.0"/>
<rect x="142.00" y="396.97" width="3.0" height="3.0"/>
<rect x="142.63" y="396.85" width="3.0" height="3.0"/>
<rect x="143.26" y="396.72" width="3.0" height="3.0"/>
<rect x="143.90" y="396.59" width="3.0" height="3.0"/>
<rect x="144.54" y="396.45" width="3.0" height="3.0"/>
<rect x="145.18" y="396.31" width="3.0" height="3.0"/>
<rect x="145.84" y="396.16" width="3.0" height="3.0"/>
<rect x="146.50" y="396.00" width="3.0" height="3.0"/>
<rect x="147.16" y="395.84" width="3.0" height="3.0"/>
<rect x="147.83" y="395.67" width="3.0" height="3.0"/>
<rect x="148.51" y="395.50" width="3.0" height="3.0"/>
<rect x="149.19" y="395.31" width="3.0" height="3.0"/>
<rect x="149.88" y="395.11" width="3.0" height="3.0"/>
<rect x="150.57" y="394.89" width="3.0" height="3.0"/>
<rect x="151.27" y="394.65" width="3.0" height="3.0"/>
<rect x="151.98" y="394.41" width="3.0" height="3.0"/>
<rect x="152.69" y="394.16" width="3.0" height="3.0"/>
<rect x="153.41" y="393.89" width="3.0" height="3.0"/>
<rect x="154.14" y="393.63" width="3.0" height="3.0"/>
<rect x="154.87" y="393.36" width="3.0" height="3.0"/>
<rect x="155.61" y="393.09" width="3.0" height="3.0"/>
<rect x="156.36" y="392.82" width="3.0" height="3.0"/>
<rect x="157.11" y="392.56" width="3.0" height="3.0"/>
<rect x="157.88" y="392.31" width="3.0" height="3.0"/>
<rect x="158.64" y="392.05" width="3.0" height="3.0"/>
<rect x="159.42" y="391.79" width="3.0" height="3.0"/>
<rect x="160.20" y="391.53" width="3.0" height="3.0"/>
<rect x="160.99" y="391.26" width="3.0" height="3.0"/>
<rect x="161.79" y="391.00" width="3.0" height="3.0"/>
<rect x="162.60" y="390.73" width="3.0" height="3.0"/>
<rect x="163.41" y="390.46" width="3.0" height="3.0"/>
<rect x="164.23" y="390.19" width="3.0" height="3.0"/>
<rect x="165.06" y="389.91" width="3.0" height="3.0"/>
<rect x="165.90" y="389.63" width="3.0" height="3.0"/>
<rect x="166.75" y="389.35" width="3.0" height="3.0"/>
<rect x="167.61" y="389.07" width="3.0" height="3.0"/>
<rect x="168.47" y="388.78" width="3.0" height="3.0"/>
<rect x="169.34" y="388.49" width="3.0" height="3.0"/>
<rect x="170.22" y="388.20" width="3.0" height="3.0"/>
<rect x="171.11" y="387.90" width="3.0" height="3.0"/>
<rect x="172.01" y="387.61" width="3.0" height="3.0"/>
<rect x="172.92" y="387.31" width="3.0" height="3.0"/>
<rect x="173.84" y="387.01" width="3.0" height="3.0"/>
<rect x="174.77" y="386.71" width="3.0" height="3.0"/>
<rect x="175.70" y="386.46" width="3.0" height="3.0"/>
<rect x="176.65" y="386.26" width="3.0" height="3.0"/>
<rect x="177.61" y="386.07" width="3.0" height="3.0"/>
<rect x="178.58" y="385.82" width="3.0" height="3.0"/>
<rect x="179.55" y="385.45" width="3.0" height="3.0"/>
<rect x="180.54" y="384.86" width="3.0" height="3.0"/>
<rect x="181.54" y="381.57" width="3.0" height="3.0"/>
<rect x="182.55" y="380.70" width="3.0" height="3.0"/>
<rect x="183.57" y="380.27" width="3.0" height="3.0"/>
<rect x="184.61" y="379.87" width="3.0" height="3.0"/>
<rect x="185.65" y="379.53" width="3.0" height="3.0"/>
<rect x="186.70" y="379.21" width="3.0" height="3.0"/>
<rect x="187.77" y="378.85" width="3.0" height="3.0"/>
<rect x="188.85" y="378.43" width="3.0" height="3.0"/>
<rect x="189.94" y="377.98" width="3.0" height="3.0"/>
<rect x="191.05" y="377.49" width="3.0" height="3.0"/>
<rect x="192.16" y="376.97" width="3.0" height="3.0"/>
<rect x="193.29" y="376.42" width="3.0" height="3.0"/>
<rect x="194.43" y="375.85" width="3.0" height="3.0"/>
<rect x="195.59" y="375.19" width="3.0" height="3.0"/>
<rect x="196.76" y="374.35" width="3.0" height="3.0"/>
<rect x="197.94" y="373.13" width="3.0" height="3.0"/>
<rect x="199.14" y="371.53" width="3.0" height="3.0"/>
<rect x="200.35" y="369.79" width="3.0" height="3.0"/>
<rect x="201.57" y="367.94" width="3.0" height="3.0"/>
<rect x="202.81" y="365.78" width="3.0" height="3.0"/>
<rect x="204.07" y="363.13" width="3.0" height="3.0"/>
<rect x="205.34" y="359.49" width="3.0" height="3.0"/>
<rect x="206.62" y="354.48" width="3.0" height="3.0"/>
<rect x="207.93" y="348.07" width="3.0" height="3.0"/>
<rect x="209.24" y="342.92" width="3.0" height="3.0"/>
<rect x="210.58" y="338.78" width="3.0" height="3.0"/>
<rect x="211.93" y="332.94" width="3.0" height="3.0"/>
<rect x="213.30" y="323.93" width="3.0" height="3.0"/>
<rect x="214.68" y="310.45" width="3.0" height="3.0"/>
<rect x="216.09" y="297.62" width="3.0" height="3.0"/>
<rect x="217.51" y="282.94" width="3.0" height="3.0"/>
<rect x="218.95" y="273.24" width="3.0" height="3.0"/>
<rect x="220.41" y="264.99" width="3.0" height="3.0"/>
<rect x="221.89" y="257.33" width="3.0" height="3.0"/>
<rect x="223.39" y="251.08" width="3.0" height="3.0"/>
<rect x="224.90" y="245.80" width="3.0" height="3.0"/>
<rect x="226.44" y="241.26" width="3.0" height="3.0"/>
<rect x="228.00" y="237.46" width="3.0" height="3.0"/>
<rect x="229.58" y="235.19" width="3.0" height="3.0"/>
<rect x="231.18" y="234.05" width="3.0" height="3.0"/>
<rect x="232.81" y="233.73" width="3.0" height="3.0"/>
<rect x="234.45" y="233.60" width="3.0" height="3.0"/>
<rect x="236.12" y="233.86" width="3.0" height="3.0"/>
<rect x="237.82" y="234.44" width="3.0" height="3.0"/>
<rect x="239.53" y="235.53" width="3.0" height="3.0"/>
<rect x="241.27" y="237.06" width="3.0" height="3.0"/>
<rect x="243.04" y="238.60" width="3.0" height="3.0"/>
<rect x="244.83" y="240.25" width="3.0" height="3.0"/>
<rect x="246.65" y="242.09" width="3.0" height="3.0"/>
<rect x="248.50" y="244.22" width="3.0" height="3.0"/>
<rect x="250.37" y="246.89" width="3.0" height="3.0"/>
<rect x="252.27" y="249.52" width="3.0" height="3.0"/>
<rect x="254.20" y="252.02" width="3.0" height="3.0"/>
<rect x="256.16" y="254.52" width="3.0" height="3.0"/>
<rect x="258.15" y="257.11" width="3.0" height="3.0"/>
<rect x="260.16" y="261.06" width="3.0" height="3.0"/>
<rect x="262.21" y="266.19" width="3.0" height="3.0"/>
<rect x="264.30" y="271.29" width="3.0" height="3.0"/>
<rect x="266.41" y="276.70" width="3.0" height="3.0"/>
<rect x="268.56" y="282.64" width="3.0" height="3.0"/>
<rect x="270.74" y="288.82" width="3.0" height="3.0"/>
<rect x="272.96" y="294.97" width="3.0" height="3.0"/>
<rect x="275.21" y="300.88" width="3.0" height="3.0"/>
<rect x="277.51" y="306.40" width="3.0" height="3.0"/>
<rect x="279.83" y="311.35" width="3.0" height="3.0"/>
<rect x="282.20" y="315.59" width="3.0" height="3.0"/>
<rect x="284.61" y="319.42" width="3.0" height="3.0"/>
<rect x="287.06" y="322.98" width="3.0" height="3.0"/>
<rect x="289.55" y="326.33" width="3.0" height="3.0"/>
<rect x="292.08" y="329.56" width="3.0" height="3.0"/>
<rect x="294.66" y="332.57" width="3.0" height="3.0"/>
<rect x="297.28" y="335.26" width="3.0" height="3.0"/>
<rect x="299.95" y="337.97" width="3.0" height="3.0"/>
<rect x="302.67" y="340.86" width="3.0" height="3.0"/>
<rect x="305.43" y="344.14" width="3.0" height="3.0"/>
<rect x="308.25" y="348.31" width="3.0" height="3.0"/>
<rect x="428.00" y="173.44" width="3.0" height="3.0"/>
<rect x="428.21" y="173.38" width="3.0" height="3.0"/>
<rect x="428.43" y="173.31" width="3.0" height="3.0"/>
<rect x="428.65" y="173.25" width="3.0" height="3.0"/>
<rect x="428.87" y="173.18" width="3.0" height="3.0"/>
<rect x="429.09" y="173.12" width="3.0" height="3.0"/>
<rect x="429.31" y="173.06" width="3.0" height="3.0"/>
<rect x="429.53" y="172.99" width="3.0" height="3.0"/>
<rect x="429.76" y="172.93" width="3.0" height="3.0"/>
<rect x="429.98" y="172.86" width="3.0" height="3.0"/>
<rect x="430.21" y="172.80" width="3.0" height="3.0"/>
<rect x="430.44" y="172.73" width="3.0" height="3.0"/>
<rect x="430.67" y="172.67" width="3.0" height="3.0"/>
<rect x="430.90" y="172.61" width="3.0" height="3.0"/>
<rect x="431.13" y="172.54" width="3.0" height="3.0"/>
<rect x="431.36" y="172.48" width="3.0" height="3.0"/>
<rect x="431.59" y="172.41" width="3.0" height="3.0"/>
<rect x="431.83" y="172.35" width="3.0" height="3.0"/>
<rect x="432.06" y="172.29" width="3.0" height="3.0"/>
<rect x="432.30" y="172.22" width="3.0" height="3.0"/>
<rect x="432.54" y="172.16" width="3.0" height="3.0"/>
<rect x="432.78" y="172.10" width="3.0" height="3.0"/>
<rect x="433.02" y="172.04" width="3.0" height="3.0"/>
<rect x="433.26" y="171.97" width="3.0" height="3.0"/>
<rect x="433.51" y="171.91" width="3.0" height="3.0"/>
<rect x="433.75" y="171.85" width="3.0" height="3.0"/>
<rect x="434.00" y="171.79" width="3.0" height="3.0"/>
<rect x="434.24" y="171.72" width="3.0" height="3.0"/>
<rect x="434.49" y="171.66" width="3.0" height="3.0"/>
<rect x="434.74" y="171.60" width="3.0" height="3.0"/>
<rect x="434.99" y="171.54" width="3.0" height="3.0"/>
<rect x="435.25" y="171.48" width="3.0" height="3.0"/>
<rect x="435.50" y="171.42" width="3.0" height="3.0"/>
<rect x="435.76" y="171.36" width="3.0" height="3.0"/>
<rect x="436.01" y="171.30" width="3.0" height="3.0"/>
<rect x="436.27" y="171.24" width="3.0" height="3.0"/>
<rect x="436.53" y="171.18" width="3.0" height="3.0"/>
<rect x="436.79" y="171.12" width="3.0" height="3.0"/>
<rect x="437.06" y="171.06" width="3.0" height="3.0"/>
<rect x="437.32" y="171.00" width="3.0" height="3.0"/>
<rect x="437.59" y="170.94" width="3.0" height="3.0"/>
<rect x="437.85" y="170.89" width="3.0" height="3.0"/>
<rect x="438.12" y="170.83" width="3.0" height="3.0"/>
<rect x="438.39" y="170.77" width="3.0" height="3.0"/>
<rect x="438.66" y="170.72" width="3.0" height="3.0"/>
<rect x="438.94" y="170.66" width="3.0" height="3.0"/>
<rect x="439.21" y="170.60" width="3.0" height="3.0"/>
<rect x="439.49" y="170.55" width="3.0" height="3.0"/>
<rect x="439.77" y="170.49" width="3.0" height="3.0"/>
<rect x="440.05" y="170.43" width="3.0" height="3.0"/>
<rect x="440.33" y="170.38" width="3.0" height="3.0"/>
<rect x="440.61" y="170.32" width="3.0" height="3.0"/>
<rect x="440.89" y="170.27" width="3.0" height="3.0"/>
<rect x="441.18" y="170.21" width="3.0" height="3.0"/>
<rect x="441.47" y="170.15" width="3.0" height="3.0"/>
<rect x="441.76" y="170.10" width="3.0" height="3.0"/>
<rect x="442.05" y="170.04" width="3.0" height="3.0"/>
<rect x="442.34" y="169.98" width="3.0" height="3.0"/>
<rect x="442.63" y="169.93" width="3.0" height="3.0"/>
<rect x="442.93" y="169.87" width="3.0" height="3.0"/>
<rect x="443.23" y="169.81" width="3.0" height="3.0"/>
<rect x="443.53" y="169.75" width="3.0" height="3.0"/>
<rect x="443.83" y="169.69" width="3.0" height="3.0"/>
<rect x="444.13" y="169.63" width="3.0" height="3.0"/>
<rect x="444.44" y="169.57" width="3.0" height="3.0"/>
<rect x="444.75" y="169.51" width="3.0" height="3.0"/>
<rect x="445.05" y="169.45" width="3.0" height="3.0"/>
<rect x="445.36" y="169.39" width="3.0" height="3.0"/>
<rect x="445.68" y="169.33" width="3.0" height="3.0"/>
<rect x="445.99" y="169.27" width="3.0" height="3.0"/>
<rect x="446.31" y="169.21" width="3.0" height="3.0"/>
<rect x="446.63" y="169.15" width="3.0" height="3.0"/>
<rect x="446.95" y="169.09" width="3.0" height="3.0"/>
<rect x="447.27" y="169.03" width="3.0" height="3.0"/>
<rect x="447.59" y="168.97" width="3.0" height="3.0"/>
<rect x="447.92" y="168.91" width="3.0" height="3.0"/>
<rect x="448.25" y="168.84" width="3.0" height="3.0"/>
<rect x="448.58" y="168.78" width="3.0" height="3.0"/>
<rect x="448.91" y="168.72" width="3.0" height="3.0"/>
<rect x="449.24" y="168.66" width="3.0" height="3.0"/>
<rect x="449.58" y="168.60" width="3.0" height="3.0"/>
<rect x="449.92" y="168.53" width="3.0" height="3.0"/>
<rect x="450.26" y="168.47" width="3.0" height="3.0"/>
<rect x="450.60" y="168.40" width="3.0" height="3.0"/>
<rect x="450.95" y="168.33" width="3.0" height="3.0"/>
<rect x="451.29" y="168.26" width="3.0" height="3.0"/>
<rect x="451.64" y="168.19" width="3.0" height="3.0"/>
<rect x="451.99" y="168.12" width="3.0" height="3.0"/>
<rect x="452.35" y="168.05" width="3.0" height="3.0"/>
<rect x="452.70" y="167.97" width="3.0" height="3.0"/>
<rect x="453.06" y="167.90" width="3.0" height="3.0"/>
<rect x="453.42" y="167.82" width="3.0" height="3.0"/>
<rect x="453.79" y="167.74" width="3.0" height="3.0"/>
<rect x="454.15" y="167.65" width="3.0" height="3.0"/>
<rect x="454.52" y="167.57" width="3.0" height="3.0"/>
<rect x="454.89" y="167.48" width="3.0" height="3.0"/>
<rect x="455.26" y="167.39" width="3.0" height="3.0"/>
<rect x="455.64" y="167.30" width="3.0" height="3.0"/>
<rect x="456.02" y="167.20" width="3.0" height="3.0"/>
<rect x="456.40" y="167.11" width="3.0" height="3.0"/>
<rect x="456.78" y="167.01" width="3.0" height="3.0"/>
<rect x="457.16" y="166.91" width="3.0" height="3.0"/>
<rect x="457.55" y="166.81" width="3.0" height="3.0"/>
<rect x="457.94" y="166.70" width="3.0" height="3.0"/>
<rect x="458.34" y="166.60" width="3.0" height="3.0"/>
<rect x="458.73" y="166.49" width="3.0" height="3.0"/>
<rect x="459.13" y="166.39" width="3.0" height="3.0"/>
<rect x="459.53" y="166.28" width="3.0" height="3.0"/>
<rect x="459.94" y="166.16" width="3.0" height="3.0"/>
<rect x="460.34" y="166.05" width="3.0" height="3.0"/>
<rect x="460.75" y="165.94" width="3.0" height="3.0"/>
<rect x="461.16" y="165.82" width="3.0" height="3.0"/>
<rect x="461.58" y="165.70" width="3.0" height="3.0"/>
<rect x="462.00" y="165.59" width="3.0" height="3.0"/>
<rect x="462.42" y="165.47" width="3.0" height="3.0"/>
<rect x="462.84" y="165.34" width="3.0" height="3.0"/>
<rect x="463.27" y="165.22" width="3.0" height="3.0"/>
<rect x="463.70" y="165.10" width="3.0" height="3.0"/>
<rect x="464.13" y="164.97" width="3.0" height="3.0"/>
<rect x="464.57" y="164.84" width="3.0" height="3.0"/>
<rect x="465.01" y="164.71" width="3.0" height="3.0"/>
<rect x="465.45" y="164.58" width="3.0" height="3.0"/>
<rect x="465.90" y="164.45" width="3.0" height="3.0"/>
<rect x="466.35" y="164.31" width="3.0" height="3.0"/>
<rect x="466.80" y="164.17" width="3.0" height="3.0"/>
<rect x="467.26" y="164.03" width="3.0" height="3.0"/>
<rect x="467.72" y="163.88" width="3.0" height="3.0"/>
<rect x="468.18" y="163.74" width="3.0" height="3.0"/>
<rect x="468.64" y="163.59" width="3.0" height="3.0"/>
<rect x="469.11" y="163.43" width="3.0" height="3.0"/>
<rect x="469.59" y="163.28" width="3.0" height="3.0"/>
<rect x="470.06" y="163.12" width="3.0" height="3.0"/>
<rect x="470.54" y="162.96" width="3.0" height="3.0"/>
<rect x="471.03" y="162.79" width="3.0" height="3.0"/>
<rect x="471.51" y="162.62" width="3.0" height="3.0"/>
<rect x="472.00" y="162.45" width="3.0" height="3.0"/>
<rect x="472.50" y="162.28" width="3.0" height="3.0"/>
<rect x="473.00" y="162.10" width="3.0" height="3.0"/>
<rect x="473.50" y="161.92" width="3.0" height="3.0"/>
<rect x="474.00" y="161.73" width="3.0" height="3.0"/>
<rect x="474.51" y="161.54" width="3.0" height="3.0"/>
<rect x="475.03" y="161.34" width="3.0" height="3.0"/>
<rect x="475.55" y="161.14" width="3.0" height="3.0"/>
<rect x="476.07" y="160.94" width="3.0" height="3.0"/>
<rect x="476.59" y="160.72" width="3.0" height="3.0"/>
<rect x="477.12" y="160.50" width="3.0" height="3.0"/>
<rect x="477.66" y="160.27" width="3.0" height="3.0"/>
<rect x="478.20" y="160.04" width="3.0" height="3.0"/>
<rect x="478.74" y="159.79" width="3.0" height="3.0"/>
<rect x="479.29" y="159.53" width="3.0" height="3.0"/>
<rect x="479.84" y="159.25" width="3.0" height="3.0"/>
<rect x="480.39" y="158.96" width="3.0" height="3.0"/>
<rect x="480.95" y="158.66" width="3.0" height="3.0"/>
<rect x="481.52" y="158.35" width="3.0" height="3.0"/>
<rect x="482.09" y="158.03" width="3.0" height="3.0"/>
<rect x="482.66" y="157.70" width="3.0" height="3.0"/>
<rect x="483.24" y="157.37" width="3.0" height="3.0"/>
<rect x="483.83" y="157.04" width="3.0" height="3.0"/>
<rect x="484.42" y="156.70" width="3.0" height="3.0"/>
<rect x="485.01" y="156.37" width="3.0" height="3.0"/>
<rect x="485.61" y="156.04" width="3.0" height="3.0"/>
<rect x="486.21" y="155.72" width="3.0" height="3.0"/>
<rect x="486.82" y="155.40" width="3.0" height="3.0"/>
<rect x="487.43" y="155.08" width="3.0" height="3.0"/>
<rect x="488.05" y="154.76" width="3.0" height="3.0"/>
<rect x="488.68" y="154.44" width="3.0" height="3.0"/>
<rect x="489.31" y="154.11" width="3.0" height="3.0"/>
<rect x="489.94" y="153.78" width="3.0" height="3.0"/>
<rect x="490.58" y="153.44" width="3.0" height="3.0"/>
<rect x="491.23" y="153.09" width="3.0" height="3.0"/>
<rect x="491.88" y="152.73" width="3.0" height="3.0"/>
<rect x="492.54" y="152.34" width="3.0" height="3.0"/>
<rect x="493.20" y="151.94" width="3.0" height="3.0"/>
<rect x="493.87" y="151.52" width="3.0" height="3.0"/>
<rect x="494.55" y="151.06" width="3.0" height="3.0"/>
<rect x="495.23" y="150.58" width="3.0" height="3.0"/>
<rect x="495.92" y="150.06" width="3.0" height="3.0"/>
<rect x="496.61" y="149.51" width="3.0" height="3.0"/>
<rect x="497.31" y="148.94" width="3.0" height="3.0"/>
<rect x="498.01" y="148.36" width="3.0" height="3.0"/>
<rect x="498.73" y="147.77" width="3.0" height="3.0"/>
<rect x="499.45" y="147.17" width="3.0" height="3.0"/>
<rect x="500.17" y="146.57" width="3.0" height="3.0"/>
<rect x="500.91" y="145.98" width="3.0" height="3.0"/>
<rect x="501.64" y="145.40" width="3.0" height="3.0"/>
<rect x="502.39" y="144.85" width="3.0" height="3.0"/>
<rect x="503.14" y="144.31" width="3.0" height="3.0"/>
<rect x="503.90" y="143.76" width="3.0" height="3.0"/>
<rect x="504.67" y="143.18" width="3.0" height="3.0"/>
<rect x="505.45" y="142.56" width="3.0" height="3.0"/>
<rect x="506.23" y="141.86" width="3.0" height="3.0"/>
<rect x="507.02" y="141.08" width="3.0" height="3.0"/>
<rect x="507.82" y="140.14" width="3.0" height="3.0"/>
<rect x="508.62" y="139.04" width="3.0" height="3.0"/>
<rect x="509.43" y="137.82" width="3.0" height="3.0"/>
<rect x="510.26" y="136.52" width="3.0" height="3.0"/>
<rect x="511.08" y="135.21" width="3.0" height="3.0"/>
<rect x="511.92" y="133.89" width="3.0" height="3.0"/>
<rect x="512.77" y="132.45" width="3.0" height="3.0"/>
<rect x="513.62" y="130.73" width="3.0" height="3.0"/>
<rect x="514.48" y="128.44" width="3.0" height="3.0"/>
<rect x="515.36" y="125.83" width="3.0" height="3.0"/>
<rect x="516.24" y="123.08" width="3.0" height="3.0"/>
<rect x="517.13" y="120.23" width="3.0" height="3.0"/>
<rect x="518.02" y="117.62" width="3.0" height="3.0"/>
<rect x="518.93" y="115.08" width="3.0" height="3.0"/>
<rect x="519.85" y="112.30" width="3.0" height="3.0"/>
<rect x="520.78" y="109.25" width="3.0" height="3.0"/>
<rect x="521.71" y="106.24" width="3.0" height="3.0"/>
<rect x="522.66" y="103.33" width="3.0" height="3.0"/>
<rect x="523.61" y="100.46" width="3.0" height="3.0"/>
<rect x="524.58" y="97.26" width="3.0" height="3.0"/>
<rect x="525.56" y="94.51" width="3.0" height="3.0"/>
<rect x="526.54" y="93.22" width="3.0" height="3.0"/>
<rect x="527.54" y="92.40" width="3.0" height="3.0"/>
<rect x="528.55" y="91.77" width="3.0" height="3.0"/>
<rect x="529.57" y="91.25" width="3.0" height="3.0"/>
<rect x="530.60" y="90.80" width="3.0" height="3.0"/>
<rect x="531.64" y="90.37" width="3.0" height="3.0"/>
<rect x="532.70" y="89.90" width="3.0" height="3.0"/>
<rect x="533.76" y="89.42" width="3.0" height="3.0"/>
<rect x="534.84" y="88.96" width="3.0" height="3.0"/>
<rect x="535.93" y="88.50" width="3.0" height="3.0"/>
<rect x="537.03" y="88.01" width="3.0" height="3.0"/>
<rect x="538.15" y="87.45" width="3.0" height="3.0"/>
<rect x="539.28" y="86.78" width="3.0" height="3.0"/>
<rect x="540.42" y="85.91" width="3.0" height="3.0"/>
<rect x="541.57" y="84.68" width="3.0" height="3.0"/>
<rect x="542.74" y="83.28" width="3.0" height="3.0"/>
<rect x="543.92" y="81.98" width="3.0" height="3.0"/>
<rect x="545.11" y="80.92" width="3.0" height="3.0"/>
<rect x="546.32" y="79.96" width="3.0" height="3.0"/>
<rect x="547.55" y="78.95" width="3.0" height="3.0"/>
<rect x="548.78" y="77.72" width="3.0" height="3.0"/>
<rect x="550.04" y="76.05" width="3.0" height="3.0"/>
<rect x="551.31" y="73.99" width="3.0" height="3.0"/>
<rect x="552.59" y="71.77" width="3.0" height="3.0"/>
<rect x="553.89" y="69.40" width="3.0" height="3.0"/>
<rect x="555.21" y="66.68" width="3.0" height="3.0"/>
<rect x="556.54" y="63.26" width="3.0" height="3.0"/>
<rect x="557.89" y="60.10" width="3.0" height="3.0"/>
<rect x="559.26" y="57.01" width="3.0" height="3.0"/>
<rect x="560.64" y="52.99" width="3.0" height="3.0"/>
<rect x="562.04" y="49.18" width="3.0" height="3.0"/>
<rect x="563.46" y="45.82" width="3.0" height="3.0"/>
<rect x="564.90" y="41.69" width="3.0" height="3.0"/>
<rect x="566.36" y="37.84" width="3.0" height="3.0"/>
<rect x="567.84" y="34.89" width="3.0" height="3.0"/>
<rect x="569.33" y="32.42" width="3.0" height="3.0"/>
<rect x="570.85" y="29.99" width="3.0" height="3.0"/>
<rect x="572.38" y="28.29" width="3.0" height="3.0"/>
<rect x="573.94" y="27.18" width="3.0" height="3.0"/>
<rect x="575.52" y="26.56" width="3.0" height="3.0"/>
<rect x="577.12" y="26.34" width="3.0" height="3.0"/>
<rect x="578.74" y="26.34" width="3.0" height="3.0"/>
<rect x="580.39" y="26.58" width="3.0" height="3.0"/>
<rect x="582.05" y="26.91" width="3.0" height="3.0"/>
<rect x="583.74" y="27.31" width="3.0" height="3.0"/>
<rect x="585.46" y="27.78" width="3.0" height="3.0"/>
<rect x="587.20" y="28.27" width="3.0" height="3.0"/>
<rect x="588.96" y="28.70" width="3.0" height="3.0"/>
<rect x="590.75" y="29.04" width="3.0" height="3.0"/>
<rect x="592.57" y="29.37" width="3.0" height="3.0"/>
<rect x="594.41" y="29.81" width="3.0" height="3.0"/>
<rect x="596.28" y="30.42" width="3.0" height="3.0"/>
<rect x="598.18" y="31.17" width="3.0" height="3.0"/>
<rect x="600.11" y="32.00" width="3.0" height="3.0"/>
<rect x="602.06" y="32.92" width="3.0" height="3.0"/>
<rect x="604.05" y="33.97" width="3.0" height="3.0"/>
<rect x="606.06" y="35.18" width="3.0" height="3.0"/>
<rect x="608.11" y="36.64" width="3.0" height="3.0"/>
<rect x="610.19" y="38.22" width="3.0" height="3.0"/>
<rect x="612.30" y="39.85" width="3.0" height="3.0"/>
<rect x="614.45" y="41.72" width="3.0" height="3.0"/>
<rect x="616.63" y="44.03" width="3.0" height="3.0"/>
<rect x="618.84" y="46.12" width="3.0" height="3.0"/>
<rect x="621.10" y="47.95" width="3.0" height="3.0"/>
<rect x="623.38" y="49.67" width="3.0" height="3.0"/>
<rect x="625.71" y="51.31" width="3.0" height="3.0"/>
<rect x="628.07" y="52.99" width="3.0" height="3.0"/>
<rect x="630.48" y="54.66" width="3.0" height="3.0"/>
<rect x="632.92" y="56.19" width="3.0" height="3.0"/>
<rect x="635.41" y="57.65" width="3.0" height="3.0"/>
<rect x="637.94" y="59.11" width="3.0" height="3.0"/>
<rect x="640.51" y="60.51" width="3.0" height="3.0"/>
<rect x="643.13" y="61.78" width="3.0" height="3.0"/>
<rect x="645.80" y="63.11" width="3.0" height="3.0"/>
<rect x="648.51" y="64.57" width="3.0" height="3.0"/>
<rect x="651.27" y="66.45" width="3.0" height="3.0"/>
<rect x="654.09" y="68.99" width="3.0" height="3.0"/>
<rect x="437.73" y="380.77" width="3.0" height="3.0"/>
<rect x="437.94" y="380.67" width="3.0" height="3.0"/>
<rect x="438.15" y="380.58" width="3.0" height="3.0"/>
<rect x="438.36" y="380.48" width="3.0" height="3.0"/>
<rect x="438.56" y="380.38" width="3.0" height="3.0"/>
<rect x="438.78" y="380.28" width="3.0" height="3.0"/>
<rect x="438.99" y="380.19" width="3.0" height="3.0"/>
<rect x="439.20" y="380.09" width="3.0" height="3.0"/>
<rect x="439.41" y="379.99" width="3.0" height="3.0"/>
<rect x="439.63" y="379.88" width="3.0" height="3.0"/>
<rect x="439.84" y="379.78" width="3.0" height="3.0"/>
<rect x="440.06" y="379.68" width="3.0" height="3.0"/>
<rect x="440.28" y="379.58" width="3.0" height="3.0"/>
<rect x="440.50" y="379.47" width="3.0" height="3.0"/>
<rect x="440.72" y="379.36" width="3.0" height="3.0"/>
<rect x="440.94" y="379.26" width="3.0" height="3.0"/>
<rect x="441.17" y="379.15" width="3.0" height="3.0"/>
<rect x="441.39" y="379.04" width="3.0" height="3.0"/>
<rect x="441.61" y="378.93" width="3.0" height="3.0"/>
<rect x="441.84" y="378.82" width="3.0" height="3.0"/>
<rect x="442.07" y="378.71" width="3.0" height="3.0"/>
<rect x="442.30" y="378.60" width="3.0" height="3.0"/>
<rect x="442.53" y="378.48" width="3.0" height="3.0"/>
<rect x="442.76" y="378.37" width="3.0" height="3.0"/>
<rect x="442.99" y="378.25" width="3.0" height="3.0"/>
<rect x="443.22" y="378.14" width="3.0" height="3.0"/>
<rect x="443.46" y="378.02" width="3.0" height="3.0"/>
<rect x="443.70" y="377.90" width="3.0" height="3.0"/>
<rect x="443.93" y="377.78" width="3.0" height="3.0"/>
<rect x="444.17" y="377.67" width="3.0" height="3.0"/>
<rect x="444.41" y="377.55" width="3.0" height="3.0"/>
<rect x="444.65" y="377.43" width="3.0" height="3.0"/>
<rect x="444.90" y="377.31" width="3.0" height="3.0"/>
<rect x="445.14" y="377.19" width="3.0" height="3.0"/>
<rect x="445.39" y="377.07" width="3.0" height="3.0"/>
<rect x="445.63" y="376.95" width="3.0" height="3.0"/>
<rect x="445.88" y="376.83" width="3.0" height="3.0"/>
<rect x="446.13" y="376.70" width="3.0" height="3.0"/>
<rect x="446.38" y="376.58" width="3.0" height="3.0"/>
<rect x="446.63" y="376.45" width="3.0" height="3.0"/>
<rect x="446.89" y="376.32" width="3.0" height="3.0"/>
<rect x="447.14" y="376.19" width="3.0" height="3.0"/>
<rect x="447.40" y="376.05" width="3.0" height="3.0"/>
<rect x="447.66" y="375.92" width="3.0" height="3.0"/>
<rect x="447.91" y="375.78" width="3.0" height="3.0"/>
<rect x="448.18" y="375.64" width="3.0" height="3.0"/>
<rect x="448.44" y="375.49" width="3.0" height="3.0"/>
<rect x="448.70" y="375.34" width="3.0" height="3.0"/>
<rect x="448.97" y="375.19" width="3.0" height="3.0"/>
<rect x="449.23" y="375.03" width="3.0" height="3.0"/>
<rect x="449.50" y="374.87" width="3.0" height="3.0"/>
<rect x="449.77" y="374.71" width="3.0" height="3.0"/>
<rect x="450.04" y="374.54" width="3.0" height="3.0"/>
<rect x="450.32" y="374.36" width="3.0" height="3.0"/>
<rect x="450.59" y="374.18" width="3.0" height="3.0"/>
<rect x="450.87" y="373.99" width="3.0" height="3.0"/>
<rect x="451.14" y="373.80" width="3.0" height="3.0"/>
<rect x="451.42" y="373.60" width="3.0" height="3.0"/>
<rect x="451.70" y="373.39" width="3.0" height="3.0"/>
<rect x="451.99" y="373.18" width="3.0" height="3.0"/>
<rect x="452.27" y="372.97" width="3.0" height="3.0"/>
<rect x="452.56" y="372.74" width="3.0" height="3.0"/>
<rect x="452.84" y="372.52" width="3.0" height="3.0"/>
<rect x="453.13" y="372.29" width="3.0" height="3.0"/>
<rect x="453.42" y="372.05" width="3.0" height="3.0"/>
<rect x="453.72" y="371.81" width="3.0" height="3.0"/>
<rect x="454.01" y="371.56" width="3.0" height="3.0"/>
<rect x="454.31" y="371.31" width="3.0" height="3.0"/>
<rect x="454.61" y="371.06" width="3.0" height="3.0"/>
<rect x="454.91" y="370.80" width="3.0" height="3.0"/>
<rect x="455.21" y="370.54" width="3.0" height="3.0"/>
<rect x="455.51" y="370.27" width="3.0" height="3.0"/>
<rect x="455.82" y="370.00" width="3.0" height="3.0"/>
<rect x="456.12" y="369.73" width="3.0" height="3.0"/>
<rect x="456.43" y="369.45" width="3.0" height="3.0"/>
<rect x="456.74" y="369.17" width="3.0" height="3.0"/>
<rect x="457.06" y="368.88" width="3.0" height="3.0"/>
<rect x="457.37" y="368.59" width="3.0" height="3.0"/>
<rect x="457.69" y="368.28" width="3.0" height="3.0"/>
<rect x="458.01" y="367.97" width="3.0" height="3.0"/>
<rect x="458.33" y="367.66" width="3.0" height="3.0"/>
<rect x="458.65" y="367.33" width="3.0" height="3.0"/>
<rect x="458.98" y="367.00" width="3.0" height="3.0"/>
<rect x="459.30" y="366.66" width="3.0" height="3.0"/>
<rect x="459.63" y="366.32" width="3.0" height="3.0"/>
<rect x="459.96" y="365.97" width="3.0" height="3.0"/>
<rect x="460.30" y="365.62" width="3.0" height="3.0"/>
<rect x="460.63" y="365.26" width="3.0" height="3.0"/>
<rect x="460.97" y="364.89" width="3.0" height="3.0"/>
<rect x="461.31" y="364.52" width="3.0" height="3.0"/>
<rect x="461.65" y="364.14" width="3.0" height="3.0"/>
<rect x="461.99" y="363.75" width="3.0" height="3.0"/>
<rect x="462.34" y="363.35" width="3.0" height="3.0"/>
<rect x="462.69" y="362.95" width="3.0" height="3.0"/>
<rect x="463.04" y="362.54" width="3.0" height="3.0"/>
<rect x="463.39" y="362.12" width="3.0" height="3.0"/>
<rect x="463.75" y="361.70" width="3.0" height="3.0"/>
<rect x="464.11" y="361.27" width="3.0" height="3.0"/>
<rect x="464.47" y="360.84" width="3.0" height="3.0"/>
<rect x="464.83" y="360.40" width="3.0" height="3.0"/>
<rect x="465.19" y="359.95" width="3.0" height="3.0"/>
<rect x="465.56" y="359.49" width="3.0" height="3.0"/>
<rect x="465.93" y="359.01" width="3.0" height="3.0"/>
<rect x="466.30" y="358.54" width="3.0" height="3.0"/>
<rect x="466.68" y="358.05" width="3.0" height="3.0"/>
<rect x="467.06" y="357.57" width="3.0" height="3.0"/>
<rect x="467.44" y="357.09" width="3.0" height="3.0"/>
<rect x="467.82" y="356.62" width="3.0" height="3.0"/>
<rect x="468.20" y="356.15" width="3.0" height="3.0"/>
<rect x="468.59" y="355.69" width="3.0" height="3.0"/>
<rect x="468.98" y="355.24" width="3.0" height="3.0"/>
<rect x="469.37" y="354.79" width="3.0" height="3.0"/>
<rect x="469.77" y="354.33" width="3.0" height="3.0"/>
<rect x="470.17" y="353.88" width="3.0" height="3.0"/>
<rect x="470.57" y="353.43" width="3.0" height="3.0"/>
<rect x="470.97" y="352.98" width="3.0" height="3.0"/>
<rect x="471.38" y="352.54" width="3.0" height="3.0"/>
<rect x="471.79" y="352.10" width="3.0" height="3.0"/>
<rect x="472.20" y="351.67" width="3.0" height="3.0"/>
<rect x="472.62" y="351.25" width="3.0" height="3.0"/>
<rect x="473.04" y="350.84" width="3.0" height="3.0"/>
<rect x="473.46" y="350.44" width="3.0" height="3.0"/>
<rect x="473.89" y="350.05" width="3.0" height="3.0"/>
<rect x="474.31" y="349.67" width="3.0" height="3.0"/>
<rect x="474.74" y="349.29" width="3.0" height="3.0"/>
<rect x="475.18" y="348.92" width="3.0" height="3.0"/>
<rect x="475.62" y="348.55" width="3.0" height="3.0"/>
<rect x="476.06" y="348.19" width="3.0" height="3.0"/>
<rect x="476.50" y="347.84" width="3.0" height="3.0"/>
<rect x="476.95" y="347.49" width="3.0" height="3.0"/>
<rect x="477.40" y="347.15" width="3.0" height="3.0"/>
<rect x="477.85" y="346.82" width="3.0" height="3.0"/>
<rect x="478.31" y="346.49" width="3.0" height="3.0"/>
<rect x="478.77" y="346.18" width="3.0" height="3.0"/>
<rect x="479.23" y="345.86" width="3.0" height="3.0"/>
<rect x="479.70" y="345.55" width="3.0" height="3.0"/>
<rect x="480.17" y="345.25" width="3.0" height="3.0"/>
<rect x="480.65" y="344.95" width="3.0" height="3.0"/>
<rect x="481.12" y="344.66" width="3.0" height="3.0"/>
<rect x="481.61" y="344.38" width="3.0" height="3.0"/>
<rect x="482.09" y="344.10" width="3.0" height="3.0"/>
<rect x="482.58" y="343.83" width="3.0" height="3.0"/>
<rect x="483.07" y="343.57" width="3.0" height="3.0"/>
<rect x="483.57" y="343.31" width="3.0" height="3.0"/>
<rect x="484.07" y="343.06" width="3.0" height="3.0"/>
<rect x="484.58" y="342.83" width="3.0" height="3.0"/>
<rect x="485.09" y="342.59" width="3.0" height="3.0"/>
<rect x="485.60" y="342.37" width="3.0" height="3.0"/>
<rect x="486.12" y="342.14" width="3.0" height="3.0"/>
<rect x="486.64" y="341.92" width="3.0" height="3.0"/>
<rect x="487.16" y="341.70" width="3.0" height="3.0"/>
<rect x="487.69" y="341.47" width="3.0" height="3.0"/>
<rect x="488.23" y="341.25" width="3.0" height="3.0"/>
<rect x="488.76" y="341.03" width="3.0" height="3.0"/>
<rect x="489.31" y="340.81" width="3.0" height="3.0"/>
<rect x="489.85" y="340.60" width="3.0" height="3.0"/>
<rect x="490.40" y="340.39" width="3.0" height="3.0"/>
<rect x="490.96" y="340.17" width="3.0" height="3.0"/>
<rect x="491.52" y="339.95" width="3.0" height="3.0"/>
<rect x="492.08" y="339.71" width="3.0" height="3.0"/>
<rect x="492.65" y="339.46" width="3.0" height="3.0"/>
<rect x="493.23" y="339.19" width="3.0" height="3.0"/>
<rect x="493.81" y="338.90" width="3.0" height="3.0"/>
<rect x="494.39" y="338.58" width="3.0" height="3.0"/>
<rect x="494.98" y="338.25" width="3.0" height="3.0"/>
<rect x="495.58" y="337.91" width="3.0" height="3.0"/>
<rect x="496.17" y="337.55" width="3.0" height="3.0"/>
<rect x="496.78" y="337.18" width="3.0" height="3.0"/>
<rect x="497.39" y="336.81" width="3.0" height="3.0"/>
<rect x="498.00" y="336.44" width="3.0" height="3.0"/>
<rect x="498.62" y="336.05" width="3.0" height="3.0"/>
<rect x="499.25" y="335.65" width="3.0" height="3.0"/>
<rect x="499.88" y="335.24" width="3.0" height="3.0"/>
<rect x="500.52" y="334.82" width="3.0" height="3.0"/>
<rect x="501.16" y="334.39" width="3.0" height="3.0"/>
<rect x="501.81" y="333.96" width="3.0" height="3.0"/>
<rect x="502.46" y="333.52" width="3.0" height="3.0"/>
<rect x="503.12" y="333.09" width="3.0" height="3.0"/>
<rect x="503.79" y="332.64" width="3.0" height="3.0"/>
<rect x="504.46" y="332.18" width="3.0" height="3.0"/>
<rect x="505.14" y="331.71" width="3.0" height="3.0"/>
<rect x="505.82" y="331.24" width="3.0" height="3.0"/>
<rect x="506.51" y="330.77" width="3.0" height="3.0"/>
<rect x="507.21" y="330.31" width="3.0" height="3.0"/>
<rect x="507.91" y="329.86" width="3.0" height="3.0"/>
<rect x="508.62" y="329.43" width="3.0" height="3.0"/>
<rect x="509.34" y="329.03" width="3.0" height="3.0"/>
<rect x="510.06" y="328.65" width="3.0" height="3.0"/>
<rect x="510.79" y="328.27" width="3.0" height="3.0"/>
<rect x="511.53" y="327.90" width="3.0" height="3.0"/>
<rect x="512.27" y="327.51" width="3.0" height="3.0"/>
<rect x="513.02" y="327.09" width="3.0" height="3.0"/>
<rect x="513.78" y="326.62" width="3.0" height="3.0"/>
<rect x="514.54" y="326.11" width="3.0" height="3.0"/>
<rect x="515.32" y="325.55" width="3.0" height="3.0"/>
<rect x="516.10" y="324.96" width="3.0" height="3.0"/>
<rect x="516.88" y="324.35" width="3.0" height="3.0"/>
<rect x="517.68" y="323.73" width="3.0" height="3.0"/>
<rect x="518.48" y="323.11" width="3.0" height="3.0"/>
<rect x="519.30" y="322.49" width="3.0" height="3.0"/>
<rect x="520.12" y="321.86" width="3.0" height="3.0"/>
<rect x="520.94" y="321.21" width="3.0" height="3.0"/>
<rect x="521.78" y="320.55" width="3.0" height="3.0"/>
<rect x="522.62" y="319.89" width="3.0" height="3.0"/>
<rect x="523.48" y="319.22" width="3.0" height="3.0"/>
<rect x="524.34" y="318.51" width="3.0" height="3.0"/>
<rect x="525.21" y="317.75" width="3.0" height="3.0"/>
<rect x="526.09" y="316.99" width="3.0" height="3.0"/>
<rect x="526.98" y="316.27" width="3.0" height="3.0"/>
<rect x="527.88" y="315.64" width="3.0" height="3.0"/>
<rect x="528.79" y="315.17" width="3.0" height="3.0"/>
<rect x="529.70" y="314.88" width="3.0" height="3.0"/>
<rect x="530.63" y="314.63" width="3.0" height="3.0"/>
<rect x="531.57" y="314.24" width="3.0" height="3.0"/>
<rect x="532.52" y="312.96" width="3.0" height="3.0"/>
<rect x="533.47" y="311.12" width="3.0" height="3.0"/>
<rect x="534.44" y="310.39" width="3.0" height="3.0"/>
<rect x="535.42" y="309.88" width="3.0" height="3.0"/>
<rect x="536.41" y="309.40" width="3.0" height="3.0"/>
<rect x="537.41" y="308.86" width="3.0" height="3.0"/>
<rect x="538.42" y="308.34" width="3.0" height="3.0"/>
<rect x="539.44" y="307.82" width="3.0" height="3.0"/>
<rect x="540.48" y="307.25" width="3.0" height="3.0"/>
<rect x="541.53" y="306.61" width="3.0" height="3.0"/>
<rect x="542.58" y="305.91" width="3.0" height="3.0"/>
<rect x="543.65" y="305.15" width="3.0" height="3.0"/>
<rect x="544.74" y="304.34" width="3.0" height="3.0"/>
<rect x="545.83" y="303.48" width="3.0" height="3.0"/>
<rect x="546.94" y="302.54" width="3.0" height="3.0"/>
<rect x="548.06" y="301.54" width="3.0" height="3.0"/>
<rect x="549.19" y="300.48" width="3.0" height="3.0"/>
<rect x="550.34" y="299.39" width="3.0" height="3.0"/>
<rect x="551.50" y="298.25" width="3.0" height="3.0"/>
<rect x="552.67" y="296.99" width="3.0" height="3.0"/>
<rect x="553.86" y="295.55" width="3.0" height="3.0"/>
<rect x="555.07" y="293.89" width="3.0" height="3.0"/>
<rect x="556.28" y="292.06" width="3.0" height="3.0"/>
<rect x="557.52" y="290.03" width="3.0" height="3.0"/>
<rect x="558.76" y="287.66" width="3.0" height="3.0"/>
<rect x="560.03" y="284.77" width="3.0" height="3.0"/>
<rect x="561.31" y="281.63" width="3.0" height="3.0"/>
<rect x="562.60" y="278.37" width="3.0" height="3.0"/>
<rect x="563.91" y="275.76" width="3.0" height="3.0"/>
<rect x="565.24" y="272.01" width="3.0" height="3.0"/>
<rect x="566.59" y="267.34" width="3.0" height="3.0"/>
<rect x="567.95" y="263.31" width="3.0" height="3.0"/>
<rect x="569.33" y="260.07" width="3.0" height="3.0"/>
<rect x="570.73" y="256.50" width="3.0" height="3.0"/>
<rect x="572.15" y="253.78" width="3.0" height="3.0"/>
<rect x="573.58" y="251.14" width="3.0" height="3.0"/>
<rect x="575.04" y="249.04" width="3.0" height="3.0"/>
<rect x="576.51" y="247.51" width="3.0" height="3.0"/>
<rect x="578.01" y="246.30" width="3.0" height="3.0"/>
<rect x="579.52" y="245.69" width="3.0" height="3.0"/>
<rect x="581.06" y="245.40" width="3.0" height="3.0"/>
<rect x="582.61" y="245.40" width="3.0" height="3.0"/>
<rect x="584.19" y="245.40" width="3.0" height="3.0"/>
<rect x="585.79" y="245.41" width="3.0" height="3.0"/>
<rect x="587.41" y="245.69" width="3.0" height="3.0"/>
<rect x="589.06" y="246.17" width="3.0" height="3.0"/>
<rect x="590.73" y="246.61" width="3.0" height="3.0"/>
<rect x="592.42" y="247.05" width="3.0" height="3.0"/>
<rect x="594.14" y="247.49" width="3.0" height="3.0"/>
<rect x="595.88" y="247.87" width="3.0" height="3.0"/>
<rect x="597.65" y="248.26" width="3.0" height="3.0"/>
<rect x="599.45" y="248.75" width="3.0" height="3.0"/>
<rect x="601.27" y="249.36" width="3.0" height="3.0"/>
<rect x="603.12" y="250.04" width="3.0" height="3.0"/>
<rect x="604.99" y="250.75" width="3.0" height="3.0"/>
<rect x="606.90" y="251.56" width="3.0" height="3.0"/>
<rect x="608.83" y="252.61" width="3.0" height="3.0"/>
<rect x="610.80" y="253.95" width="3.0" height="3.0"/>
<rect x="612.80" y="255.54" width="3.0" height="3.0"/>
<rect x="614.82" y="257.47" width="3.0" height="3.0"/>
<rect x="616.88" y="259.26" width="3.0" height="3.0"/>
<rect x="618.97" y="261.02" width="3.0" height="3.0"/>
<rect x="621.10" y="263.12" width="3.0" height="3.0"/>
<rect x="623.26" y="265.35" width="3.0" height="3.0"/>
<rect x="625.46" y="267.11" width="3.0" height="3.0"/>
<rect x="627.69" y="268.60" width="3.0" height="3.0"/>
<rect x="629.96" y="270.08" width="3.0" height="3.0"/>
<rect x="632.27" y="271.54" width="3.0" height="3.0"/>
<rect x="634.61" y="273.02" width="3.0" height="3.0"/>
<rect x="637.00" y="274.59" width="3.0" height="3.0"/>
<rect x="639.43" y="276.03" width="3.0" height="3.0"/>
<rect x="641.90" y="277.26" width="3.0" height="3.0"/>
<rect x="644.41" y="278.45" width="3.0" height="3.0"/>
<rect x="646.97" y="279.67" width="3.0" height="3.0"/>
<rect x="649.57" y="281.04" width="3.0" height="3.0"/>
<rect x="652.22" y="282.77" width="3.0" height="3.0"/>
<rect x="654.92" y="284.84" width="3.0" height="3.0"/>
</g>
<line x1="229.20" y1="19.20" x2="204.59" y2="169.78" stroke="#ff0000" stroke-width="2.9" stroke-linecap="butt"/>
<polygon points="202.55,182.31 200.61,168.11 208.90,169.47" fill="#ff0000" stroke="#ff0000" stroke-width="1.0" stroke-linejoin="round"/>
<line x1="229.80" y1="234.90" x2="202.94" y2="388.90" stroke="#ff0000" stroke-width="2.9" stroke-linecap="butt"/>
<polygon points="200.75,401.41 198.97,387.20 207.25,388.64" fill="#ff0000" stroke="#ff0000" stroke-width="1.0" stroke-linejoin="round"/>
<line x1="528.40" y1="95.80" x2="500.93" y2="175.54" stroke="#ff0000" stroke-width="2.9" stroke-linecap="butt"/>
<polygon points="496.79,187.55 497.28,173.23 505.23,175.96" fill="#ff0000" stroke="#ff0000" stroke-width="1.0" stroke-linejoin="round"/>
<line x1="530.30" y1="316.60" x2="425.13" y2="398.45" stroke="#ff0000" stroke-width="2.9" stroke-linecap="butt"/>
<polygon points="415.11,406.25 423.34,394.52 428.50,401.15" fill="#ff0000" stroke="#ff0000" stroke-width="1.0" stroke-linejoin="round"/>
<text x="67.60" y="16.20" text-anchor="start" font-size="13.4" >(a)</text>
<text transform="translate(67.60 33.00) scale(1 1.06)" text-anchor="start" font-size="13.4" >x=0</text>
<text transform="translate(419.80 23.00) scale(1 1.06)" text-anchor="start" font-size="13.4" >(b)</text>
<text transform="translate(419.80 39.60) scale(1 1.06)" text-anchor="start" font-size="13.4" >x=0</text>
<text transform="translate(75.40 237.50) scale(1 1.06)" text-anchor="start" font-size="13.4" >x=0.05</text>
<text transform="translate(423.40 242.80) scale(1 1.06)" text-anchor="start" font-size="13.4" >x=0.05</text>
<text x="118.10" y="451.00" text-anchor="start" font-size="13.4" >Photon Energy, <tspan font-style="italic">h</tspan><tspan font-weight="normal" style="stroke-width:0.75px">&#957;</tspan> (ev)</text>
<text x="464.40" y="455.50" text-anchor="start" font-size="13.4" >Photon Energy, <tspan font-style="italic">h</tspan><tspan font-weight="normal" style="stroke-width:0.75px">&#957;</tspan> (ev)</text>
<text transform="translate(13.3,209.6) rotate(-90)" font-size="12.8" style="stroke-width:0.25px">[F(R)/<tspan font-style="italic">h</tspan><tspan font-weight="normal" style="stroke-width:0.75px">&#957;</tspan>]<tspan dy="-6" font-size="9">2</tspan></text>
<text transform="translate(368.6,218.6) rotate(-90)" font-size="12.8" style="stroke-width:0.25px">[F(R)/<tspan font-style="italic">h</tspan><tspan font-weight="normal" style="stroke-width:0.75px">&#957;</tspan>]<tspan dy="-6" font-size="9">1/2</tspan></text>
</svg>
</body></html>
